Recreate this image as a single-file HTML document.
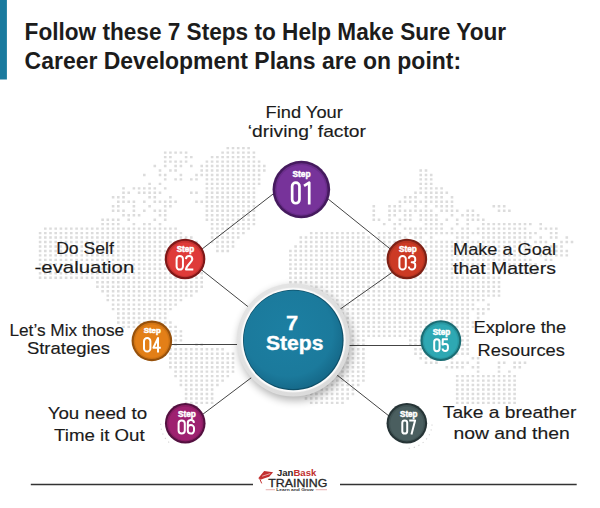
<!DOCTYPE html>
<html><head><meta charset="utf-8">
<style>
html,body{margin:0;padding:0;background:#fff;}
body{width:600px;height:508px;overflow:hidden;position:relative;}
svg{position:absolute;left:0;top:0;}
.t{font-family:"Liberation Sans",sans-serif;}
</style></head>
<body>
<svg width="600" height="508" viewBox="0 0 600 508">
<defs>
<linearGradient id="ringg" x1="0" y1="0" x2="1" y2="1">
<stop offset="0" stop-color="#e6e6e6"/><stop offset="1" stop-color="#d8d8d8"/>
</linearGradient>
<radialGradient id="tealg" cx="0.45" cy="0.42" r="0.6">
<stop offset="0" stop-color="#1c7fa2"/><stop offset="0.75" stop-color="#1b7a9c"/><stop offset="1" stop-color="#156888"/>
</radialGradient>
<filter id="mblur" x="0" y="0" width="1" height="1"><feGaussianBlur stdDeviation="0.45"/></filter>
<filter id="blur4" x="-30%" y="-30%" width="160%" height="160%"><feGaussianBlur stdDeviation="4"/></filter>
<filter id="sh" x="-30%" y="-30%" width="160%" height="160%">
<feGaussianBlur in="SourceAlpha" stdDeviation="3"/>
<feOffset dx="3" dy="4" result="b"/>
<feComponentTransfer><feFuncA type="linear" slope="0.35"/></feComponentTransfer>
<feMerge><feMergeNode/><feMergeNode in="SourceGraphic"/></feMerge>
</filter>
</defs>
<rect x="0" y="0" width="6.9" height="79.5" fill="#1a7a9e"/>
<g class="t" font-weight="bold" fill="#1c1c1c" font-size="23.5">
<text x="24.6" y="39.5" textLength="481.5" lengthAdjust="spacingAndGlyphs">Follow these 7 Steps to Help Make Sure Your</text>
<text x="24.6" y="68.5" textLength="436.5" lengthAdjust="spacingAndGlyphs">Career Development Plans are on point:</text>
</g>
<g id="map" filter="url(#mblur)"><path fill="#dcdcdc" d="M226.5 146.9h2.6v2.4h-2.6zM231.7 146.9h2.6v2.4h-2.6zM236.9 146.9h2.6v2.4h-2.6zM242.1 146.9h2.6v2.4h-2.6zM247.3 146.9h2.6v2.4h-2.6zM163.9 151.4h2.6v2.4h-2.6zM169.1 151.4h2.6v2.4h-2.6zM174.3 151.4h2.6v2.4h-2.6zM179.6 151.4h2.6v2.4h-2.6zM184.8 151.4h2.6v2.4h-2.6zM221.3 151.4h2.6v2.4h-2.6zM226.5 151.4h2.6v2.4h-2.6zM231.7 151.4h2.6v2.4h-2.6zM236.9 151.4h2.6v2.4h-2.6zM242.1 151.4h2.6v2.4h-2.6zM247.3 151.4h2.6v2.4h-2.6zM252.6 151.4h2.6v2.4h-2.6zM163.9 155.9h2.6v2.4h-2.6zM169.1 155.9h2.6v2.4h-2.6zM184.8 155.9h2.6v2.4h-2.6zM190.0 155.9h2.6v2.4h-2.6zM210.8 155.9h2.6v2.4h-2.6zM216.1 155.9h2.6v2.4h-2.6zM221.3 155.9h2.6v2.4h-2.6zM226.5 155.9h2.6v2.4h-2.6zM231.7 155.9h2.6v2.4h-2.6zM236.9 155.9h2.6v2.4h-2.6zM242.1 155.9h2.6v2.4h-2.6zM247.3 155.9h2.6v2.4h-2.6zM252.6 155.9h2.6v2.4h-2.6zM163.9 160.4h2.6v2.4h-2.6zM169.1 160.4h2.6v2.4h-2.6zM174.3 160.4h2.6v2.4h-2.6zM179.6 160.4h2.6v2.4h-2.6zM184.8 160.4h2.6v2.4h-2.6zM205.6 160.4h2.6v2.4h-2.6zM210.8 160.4h2.6v2.4h-2.6zM216.1 160.4h2.6v2.4h-2.6zM221.3 160.4h2.6v2.4h-2.6zM226.5 160.4h2.6v2.4h-2.6zM231.7 160.4h2.6v2.4h-2.6zM236.9 160.4h2.6v2.4h-2.6zM242.1 160.4h2.6v2.4h-2.6zM247.3 160.4h2.6v2.4h-2.6zM252.6 160.4h2.6v2.4h-2.6zM257.8 160.4h2.6v2.4h-2.6zM153.5 164.8h2.6v2.4h-2.6zM163.9 164.8h2.6v2.4h-2.6zM174.3 164.8h2.6v2.4h-2.6zM179.6 164.8h2.6v2.4h-2.6zM190.0 164.8h2.6v2.4h-2.6zM200.4 164.8h2.6v2.4h-2.6zM205.6 164.8h2.6v2.4h-2.6zM210.8 164.8h2.6v2.4h-2.6zM216.1 164.8h2.6v2.4h-2.6zM221.3 164.8h2.6v2.4h-2.6zM226.5 164.8h2.6v2.4h-2.6zM231.7 164.8h2.6v2.4h-2.6zM236.9 164.8h2.6v2.4h-2.6zM242.1 164.8h2.6v2.4h-2.6zM247.3 164.8h2.6v2.4h-2.6zM252.6 164.8h2.6v2.4h-2.6zM257.8 164.8h2.6v2.4h-2.6zM263.0 164.8h2.6v2.4h-2.6zM158.7 169.3h2.6v2.4h-2.6zM169.1 169.3h2.6v2.4h-2.6zM174.3 169.3h2.6v2.4h-2.6zM200.4 169.3h2.6v2.4h-2.6zM205.6 169.3h2.6v2.4h-2.6zM210.8 169.3h2.6v2.4h-2.6zM216.1 169.3h2.6v2.4h-2.6zM221.3 169.3h2.6v2.4h-2.6zM226.5 169.3h2.6v2.4h-2.6zM231.7 169.3h2.6v2.4h-2.6zM236.9 169.3h2.6v2.4h-2.6zM242.1 169.3h2.6v2.4h-2.6zM247.3 169.3h2.6v2.4h-2.6zM252.6 169.3h2.6v2.4h-2.6zM257.8 169.3h2.6v2.4h-2.6zM263.0 169.3h2.6v2.4h-2.6zM419.4 169.3h2.6v2.4h-2.6zM424.7 169.3h2.6v2.4h-2.6zM143.0 173.8h2.6v2.4h-2.6zM158.7 173.8h2.6v2.4h-2.6zM163.9 173.8h2.6v2.4h-2.6zM179.6 173.8h2.6v2.4h-2.6zM195.2 173.8h2.6v2.4h-2.6zM200.4 173.8h2.6v2.4h-2.6zM205.6 173.8h2.6v2.4h-2.6zM210.8 173.8h2.6v2.4h-2.6zM216.1 173.8h2.6v2.4h-2.6zM221.3 173.8h2.6v2.4h-2.6zM226.5 173.8h2.6v2.4h-2.6zM231.7 173.8h2.6v2.4h-2.6zM236.9 173.8h2.6v2.4h-2.6zM242.1 173.8h2.6v2.4h-2.6zM247.3 173.8h2.6v2.4h-2.6zM252.6 173.8h2.6v2.4h-2.6zM257.8 173.8h2.6v2.4h-2.6zM419.4 173.8h2.6v2.4h-2.6zM424.7 173.8h2.6v2.4h-2.6zM429.9 173.8h2.6v2.4h-2.6zM163.9 178.2h2.6v2.4h-2.6zM174.3 178.2h2.6v2.4h-2.6zM179.6 178.2h2.6v2.4h-2.6zM190.0 178.2h2.6v2.4h-2.6zM195.2 178.2h2.6v2.4h-2.6zM205.6 178.2h2.6v2.4h-2.6zM210.8 178.2h2.6v2.4h-2.6zM216.1 178.2h2.6v2.4h-2.6zM221.3 178.2h2.6v2.4h-2.6zM226.5 178.2h2.6v2.4h-2.6zM231.7 178.2h2.6v2.4h-2.6zM236.9 178.2h2.6v2.4h-2.6zM242.1 178.2h2.6v2.4h-2.6zM247.3 178.2h2.6v2.4h-2.6zM252.6 178.2h2.6v2.4h-2.6zM257.8 178.2h2.6v2.4h-2.6zM283.9 178.2h2.6v2.4h-2.6zM289.1 178.2h2.6v2.4h-2.6zM294.3 178.2h2.6v2.4h-2.6zM419.4 178.2h2.6v2.4h-2.6zM424.7 178.2h2.6v2.4h-2.6zM429.9 178.2h2.6v2.4h-2.6zM148.3 182.7h2.6v2.4h-2.6zM158.7 182.7h2.6v2.4h-2.6zM205.6 182.7h2.6v2.4h-2.6zM210.8 182.7h2.6v2.4h-2.6zM216.1 182.7h2.6v2.4h-2.6zM221.3 182.7h2.6v2.4h-2.6zM226.5 182.7h2.6v2.4h-2.6zM231.7 182.7h2.6v2.4h-2.6zM236.9 182.7h2.6v2.4h-2.6zM242.1 182.7h2.6v2.4h-2.6zM247.3 182.7h2.6v2.4h-2.6zM252.6 182.7h2.6v2.4h-2.6zM257.8 182.7h2.6v2.4h-2.6zM283.9 182.7h2.6v2.4h-2.6zM289.1 182.7h2.6v2.4h-2.6zM294.3 182.7h2.6v2.4h-2.6zM419.4 182.7h2.6v2.4h-2.6zM424.7 182.7h2.6v2.4h-2.6zM429.9 182.7h2.6v2.4h-2.6zM122.2 187.2h2.6v2.4h-2.6zM132.6 187.2h2.6v2.4h-2.6zM137.8 187.2h2.6v2.4h-2.6zM143.0 187.2h2.6v2.4h-2.6zM148.3 187.2h2.6v2.4h-2.6zM153.5 187.2h2.6v2.4h-2.6zM163.9 187.2h2.6v2.4h-2.6zM205.6 187.2h2.6v2.4h-2.6zM210.8 187.2h2.6v2.4h-2.6zM216.1 187.2h2.6v2.4h-2.6zM221.3 187.2h2.6v2.4h-2.6zM226.5 187.2h2.6v2.4h-2.6zM231.7 187.2h2.6v2.4h-2.6zM236.9 187.2h2.6v2.4h-2.6zM242.1 187.2h2.6v2.4h-2.6zM247.3 187.2h2.6v2.4h-2.6zM252.6 187.2h2.6v2.4h-2.6zM419.4 187.2h2.6v2.4h-2.6zM424.7 187.2h2.6v2.4h-2.6zM429.9 187.2h2.6v2.4h-2.6zM435.1 187.2h2.6v2.4h-2.6zM440.3 187.2h2.6v2.4h-2.6zM122.2 191.6h2.6v2.4h-2.6zM127.4 191.6h2.6v2.4h-2.6zM137.8 191.6h2.6v2.4h-2.6zM143.0 191.6h2.6v2.4h-2.6zM148.3 191.6h2.6v2.4h-2.6zM153.5 191.6h2.6v2.4h-2.6zM158.7 191.6h2.6v2.4h-2.6zM190.0 191.6h2.6v2.4h-2.6zM195.2 191.6h2.6v2.4h-2.6zM205.6 191.6h2.6v2.4h-2.6zM210.8 191.6h2.6v2.4h-2.6zM216.1 191.6h2.6v2.4h-2.6zM221.3 191.6h2.6v2.4h-2.6zM226.5 191.6h2.6v2.4h-2.6zM231.7 191.6h2.6v2.4h-2.6zM236.9 191.6h2.6v2.4h-2.6zM242.1 191.6h2.6v2.4h-2.6zM247.3 191.6h2.6v2.4h-2.6zM252.6 191.6h2.6v2.4h-2.6zM414.2 191.6h2.6v2.4h-2.6zM419.4 191.6h2.6v2.4h-2.6zM424.7 191.6h2.6v2.4h-2.6zM429.9 191.6h2.6v2.4h-2.6zM435.1 191.6h2.6v2.4h-2.6zM440.3 191.6h2.6v2.4h-2.6zM445.5 191.6h2.6v2.4h-2.6zM111.8 196.1h2.6v2.4h-2.6zM117.0 196.1h2.6v2.4h-2.6zM122.2 196.1h2.6v2.4h-2.6zM148.3 196.1h2.6v2.4h-2.6zM153.5 196.1h2.6v2.4h-2.6zM169.1 196.1h2.6v2.4h-2.6zM205.6 196.1h2.6v2.4h-2.6zM210.8 196.1h2.6v2.4h-2.6zM216.1 196.1h2.6v2.4h-2.6zM221.3 196.1h2.6v2.4h-2.6zM226.5 196.1h2.6v2.4h-2.6zM231.7 196.1h2.6v2.4h-2.6zM236.9 196.1h2.6v2.4h-2.6zM242.1 196.1h2.6v2.4h-2.6zM247.3 196.1h2.6v2.4h-2.6zM252.6 196.1h2.6v2.4h-2.6zM403.8 196.1h2.6v2.4h-2.6zM409.0 196.1h2.6v2.4h-2.6zM414.2 196.1h2.6v2.4h-2.6zM424.7 196.1h2.6v2.4h-2.6zM429.9 196.1h2.6v2.4h-2.6zM435.1 196.1h2.6v2.4h-2.6zM440.3 196.1h2.6v2.4h-2.6zM450.7 196.1h2.6v2.4h-2.6zM117.0 200.6h2.6v2.4h-2.6zM122.2 200.6h2.6v2.4h-2.6zM127.4 200.6h2.6v2.4h-2.6zM132.6 200.6h2.6v2.4h-2.6zM143.0 200.6h2.6v2.4h-2.6zM153.5 200.6h2.6v2.4h-2.6zM158.7 200.6h2.6v2.4h-2.6zM163.9 200.6h2.6v2.4h-2.6zM169.1 200.6h2.6v2.4h-2.6zM174.3 200.6h2.6v2.4h-2.6zM195.2 200.6h2.6v2.4h-2.6zM200.4 200.6h2.6v2.4h-2.6zM205.6 200.6h2.6v2.4h-2.6zM210.8 200.6h2.6v2.4h-2.6zM216.1 200.6h2.6v2.4h-2.6zM221.3 200.6h2.6v2.4h-2.6zM226.5 200.6h2.6v2.4h-2.6zM231.7 200.6h2.6v2.4h-2.6zM236.9 200.6h2.6v2.4h-2.6zM242.1 200.6h2.6v2.4h-2.6zM247.3 200.6h2.6v2.4h-2.6zM252.6 200.6h2.6v2.4h-2.6zM398.6 200.6h2.6v2.4h-2.6zM403.8 200.6h2.6v2.4h-2.6zM409.0 200.6h2.6v2.4h-2.6zM414.2 200.6h2.6v2.4h-2.6zM419.4 200.6h2.6v2.4h-2.6zM424.7 200.6h2.6v2.4h-2.6zM429.9 200.6h2.6v2.4h-2.6zM435.1 200.6h2.6v2.4h-2.6zM440.3 200.6h2.6v2.4h-2.6zM445.5 200.6h2.6v2.4h-2.6zM450.7 200.6h2.6v2.4h-2.6zM111.8 205.1h2.6v2.4h-2.6zM117.0 205.1h2.6v2.4h-2.6zM132.6 205.1h2.6v2.4h-2.6zM148.3 205.1h2.6v2.4h-2.6zM163.9 205.1h2.6v2.4h-2.6zM169.1 205.1h2.6v2.4h-2.6zM205.6 205.1h2.6v2.4h-2.6zM210.8 205.1h2.6v2.4h-2.6zM216.1 205.1h2.6v2.4h-2.6zM221.3 205.1h2.6v2.4h-2.6zM226.5 205.1h2.6v2.4h-2.6zM231.7 205.1h2.6v2.4h-2.6zM236.9 205.1h2.6v2.4h-2.6zM242.1 205.1h2.6v2.4h-2.6zM247.3 205.1h2.6v2.4h-2.6zM252.6 205.1h2.6v2.4h-2.6zM372.5 205.1h2.6v2.4h-2.6zM388.2 205.1h2.6v2.4h-2.6zM393.4 205.1h2.6v2.4h-2.6zM398.6 205.1h2.6v2.4h-2.6zM414.2 205.1h2.6v2.4h-2.6zM424.7 205.1h2.6v2.4h-2.6zM435.1 205.1h2.6v2.4h-2.6zM440.3 205.1h2.6v2.4h-2.6zM445.5 205.1h2.6v2.4h-2.6zM450.7 205.1h2.6v2.4h-2.6zM492.5 205.1h2.6v2.4h-2.6zM497.7 205.1h2.6v2.4h-2.6zM502.9 205.1h2.6v2.4h-2.6zM111.8 209.5h2.6v2.4h-2.6zM117.0 209.5h2.6v2.4h-2.6zM122.2 209.5h2.6v2.4h-2.6zM132.6 209.5h2.6v2.4h-2.6zM143.0 209.5h2.6v2.4h-2.6zM153.5 209.5h2.6v2.4h-2.6zM158.7 209.5h2.6v2.4h-2.6zM163.9 209.5h2.6v2.4h-2.6zM205.6 209.5h2.6v2.4h-2.6zM210.8 209.5h2.6v2.4h-2.6zM216.1 209.5h2.6v2.4h-2.6zM221.3 209.5h2.6v2.4h-2.6zM226.5 209.5h2.6v2.4h-2.6zM231.7 209.5h2.6v2.4h-2.6zM236.9 209.5h2.6v2.4h-2.6zM242.1 209.5h2.6v2.4h-2.6zM247.3 209.5h2.6v2.4h-2.6zM252.6 209.5h2.6v2.4h-2.6zM372.5 209.5h2.6v2.4h-2.6zM388.2 209.5h2.6v2.4h-2.6zM393.4 209.5h2.6v2.4h-2.6zM398.6 209.5h2.6v2.4h-2.6zM403.8 209.5h2.6v2.4h-2.6zM409.0 209.5h2.6v2.4h-2.6zM414.2 209.5h2.6v2.4h-2.6zM419.4 209.5h2.6v2.4h-2.6zM424.7 209.5h2.6v2.4h-2.6zM429.9 209.5h2.6v2.4h-2.6zM440.3 209.5h2.6v2.4h-2.6zM445.5 209.5h2.6v2.4h-2.6zM450.7 209.5h2.6v2.4h-2.6zM455.9 209.5h2.6v2.4h-2.6zM466.4 209.5h2.6v2.4h-2.6zM471.6 209.5h2.6v2.4h-2.6zM497.7 209.5h2.6v2.4h-2.6zM502.9 209.5h2.6v2.4h-2.6zM508.1 209.5h2.6v2.4h-2.6zM122.2 214.0h2.6v2.4h-2.6zM127.4 214.0h2.6v2.4h-2.6zM132.6 214.0h2.6v2.4h-2.6zM137.8 214.0h2.6v2.4h-2.6zM158.7 214.0h2.6v2.4h-2.6zM163.9 214.0h2.6v2.4h-2.6zM205.6 214.0h2.6v2.4h-2.6zM210.8 214.0h2.6v2.4h-2.6zM216.1 214.0h2.6v2.4h-2.6zM221.3 214.0h2.6v2.4h-2.6zM226.5 214.0h2.6v2.4h-2.6zM231.7 214.0h2.6v2.4h-2.6zM236.9 214.0h2.6v2.4h-2.6zM242.1 214.0h2.6v2.4h-2.6zM247.3 214.0h2.6v2.4h-2.6zM252.6 214.0h2.6v2.4h-2.6zM372.5 214.0h2.6v2.4h-2.6zM388.2 214.0h2.6v2.4h-2.6zM393.4 214.0h2.6v2.4h-2.6zM403.8 214.0h2.6v2.4h-2.6zM409.0 214.0h2.6v2.4h-2.6zM419.4 214.0h2.6v2.4h-2.6zM424.7 214.0h2.6v2.4h-2.6zM429.9 214.0h2.6v2.4h-2.6zM435.1 214.0h2.6v2.4h-2.6zM450.7 214.0h2.6v2.4h-2.6zM461.2 214.0h2.6v2.4h-2.6zM466.4 214.0h2.6v2.4h-2.6zM471.6 214.0h2.6v2.4h-2.6zM476.8 214.0h2.6v2.4h-2.6zM101.3 218.5h2.6v2.4h-2.6zM106.5 218.5h2.6v2.4h-2.6zM111.8 218.5h2.6v2.4h-2.6zM117.0 218.5h2.6v2.4h-2.6zM127.4 218.5h2.6v2.4h-2.6zM153.5 218.5h2.6v2.4h-2.6zM163.9 218.5h2.6v2.4h-2.6zM205.6 218.5h2.6v2.4h-2.6zM210.8 218.5h2.6v2.4h-2.6zM216.1 218.5h2.6v2.4h-2.6zM221.3 218.5h2.6v2.4h-2.6zM226.5 218.5h2.6v2.4h-2.6zM231.7 218.5h2.6v2.4h-2.6zM236.9 218.5h2.6v2.4h-2.6zM242.1 218.5h2.6v2.4h-2.6zM247.3 218.5h2.6v2.4h-2.6zM252.6 218.5h2.6v2.4h-2.6zM372.5 218.5h2.6v2.4h-2.6zM377.7 218.5h2.6v2.4h-2.6zM388.2 218.5h2.6v2.4h-2.6zM398.6 218.5h2.6v2.4h-2.6zM403.8 218.5h2.6v2.4h-2.6zM409.0 218.5h2.6v2.4h-2.6zM419.4 218.5h2.6v2.4h-2.6zM424.7 218.5h2.6v2.4h-2.6zM429.9 218.5h2.6v2.4h-2.6zM435.1 218.5h2.6v2.4h-2.6zM445.5 218.5h2.6v2.4h-2.6zM455.9 218.5h2.6v2.4h-2.6zM466.4 218.5h2.6v2.4h-2.6zM471.6 218.5h2.6v2.4h-2.6zM476.8 218.5h2.6v2.4h-2.6zM482.0 218.5h2.6v2.4h-2.6zM101.3 222.9h2.6v2.4h-2.6zM106.5 222.9h2.6v2.4h-2.6zM111.8 222.9h2.6v2.4h-2.6zM117.0 222.9h2.6v2.4h-2.6zM132.6 222.9h2.6v2.4h-2.6zM143.0 222.9h2.6v2.4h-2.6zM148.3 222.9h2.6v2.4h-2.6zM158.7 222.9h2.6v2.4h-2.6zM210.8 222.9h2.6v2.4h-2.6zM216.1 222.9h2.6v2.4h-2.6zM221.3 222.9h2.6v2.4h-2.6zM226.5 222.9h2.6v2.4h-2.6zM231.7 222.9h2.6v2.4h-2.6zM236.9 222.9h2.6v2.4h-2.6zM242.1 222.9h2.6v2.4h-2.6zM247.3 222.9h2.6v2.4h-2.6zM252.6 222.9h2.6v2.4h-2.6zM382.9 222.9h2.6v2.4h-2.6zM393.4 222.9h2.6v2.4h-2.6zM398.6 222.9h2.6v2.4h-2.6zM424.7 222.9h2.6v2.4h-2.6zM429.9 222.9h2.6v2.4h-2.6zM435.1 222.9h2.6v2.4h-2.6zM440.3 222.9h2.6v2.4h-2.6zM455.9 222.9h2.6v2.4h-2.6zM466.4 222.9h2.6v2.4h-2.6zM482.0 222.9h2.6v2.4h-2.6zM487.2 222.9h2.6v2.4h-2.6zM492.5 222.9h2.6v2.4h-2.6zM497.7 222.9h2.6v2.4h-2.6zM502.9 222.9h2.6v2.4h-2.6zM508.1 222.9h2.6v2.4h-2.6zM513.3 222.9h2.6v2.4h-2.6zM518.5 222.9h2.6v2.4h-2.6zM523.7 222.9h2.6v2.4h-2.6zM529.0 222.9h2.6v2.4h-2.6zM539.4 222.9h2.6v2.4h-2.6zM44.0 227.4h2.6v2.4h-2.6zM49.2 227.4h2.6v2.4h-2.6zM54.4 227.4h2.6v2.4h-2.6zM59.6 227.4h2.6v2.4h-2.6zM64.8 227.4h2.6v2.4h-2.6zM70.0 227.4h2.6v2.4h-2.6zM75.3 227.4h2.6v2.4h-2.6zM80.5 227.4h2.6v2.4h-2.6zM85.7 227.4h2.6v2.4h-2.6zM90.9 227.4h2.6v2.4h-2.6zM96.1 227.4h2.6v2.4h-2.6zM101.3 227.4h2.6v2.4h-2.6zM106.5 227.4h2.6v2.4h-2.6zM111.8 227.4h2.6v2.4h-2.6zM117.0 227.4h2.6v2.4h-2.6zM122.2 227.4h2.6v2.4h-2.6zM127.4 227.4h2.6v2.4h-2.6zM132.6 227.4h2.6v2.4h-2.6zM137.8 227.4h2.6v2.4h-2.6zM143.0 227.4h2.6v2.4h-2.6zM148.3 227.4h2.6v2.4h-2.6zM153.5 227.4h2.6v2.4h-2.6zM158.7 227.4h2.6v2.4h-2.6zM163.9 227.4h2.6v2.4h-2.6zM169.1 227.4h2.6v2.4h-2.6zM174.3 227.4h2.6v2.4h-2.6zM210.8 227.4h2.6v2.4h-2.6zM216.1 227.4h2.6v2.4h-2.6zM221.3 227.4h2.6v2.4h-2.6zM226.5 227.4h2.6v2.4h-2.6zM231.7 227.4h2.6v2.4h-2.6zM236.9 227.4h2.6v2.4h-2.6zM242.1 227.4h2.6v2.4h-2.6zM247.3 227.4h2.6v2.4h-2.6zM393.4 227.4h2.6v2.4h-2.6zM403.8 227.4h2.6v2.4h-2.6zM409.0 227.4h2.6v2.4h-2.6zM414.2 227.4h2.6v2.4h-2.6zM419.4 227.4h2.6v2.4h-2.6zM424.7 227.4h2.6v2.4h-2.6zM429.9 227.4h2.6v2.4h-2.6zM435.1 227.4h2.6v2.4h-2.6zM440.3 227.4h2.6v2.4h-2.6zM450.7 227.4h2.6v2.4h-2.6zM461.2 227.4h2.6v2.4h-2.6zM466.4 227.4h2.6v2.4h-2.6zM476.8 227.4h2.6v2.4h-2.6zM482.0 227.4h2.6v2.4h-2.6zM487.2 227.4h2.6v2.4h-2.6zM492.5 227.4h2.6v2.4h-2.6zM497.7 227.4h2.6v2.4h-2.6zM502.9 227.4h2.6v2.4h-2.6zM508.1 227.4h2.6v2.4h-2.6zM513.3 227.4h2.6v2.4h-2.6zM518.5 227.4h2.6v2.4h-2.6zM523.7 227.4h2.6v2.4h-2.6zM539.4 227.4h2.6v2.4h-2.6zM544.6 227.4h2.6v2.4h-2.6zM549.8 227.4h2.6v2.4h-2.6zM555.0 227.4h2.6v2.4h-2.6zM38.8 231.9h2.6v2.4h-2.6zM44.0 231.9h2.6v2.4h-2.6zM49.2 231.9h2.6v2.4h-2.6zM54.4 231.9h2.6v2.4h-2.6zM59.6 231.9h2.6v2.4h-2.6zM64.8 231.9h2.6v2.4h-2.6zM70.0 231.9h2.6v2.4h-2.6zM75.3 231.9h2.6v2.4h-2.6zM80.5 231.9h2.6v2.4h-2.6zM85.7 231.9h2.6v2.4h-2.6zM90.9 231.9h2.6v2.4h-2.6zM96.1 231.9h2.6v2.4h-2.6zM101.3 231.9h2.6v2.4h-2.6zM106.5 231.9h2.6v2.4h-2.6zM111.8 231.9h2.6v2.4h-2.6zM117.0 231.9h2.6v2.4h-2.6zM122.2 231.9h2.6v2.4h-2.6zM127.4 231.9h2.6v2.4h-2.6zM132.6 231.9h2.6v2.4h-2.6zM137.8 231.9h2.6v2.4h-2.6zM143.0 231.9h2.6v2.4h-2.6zM148.3 231.9h2.6v2.4h-2.6zM153.5 231.9h2.6v2.4h-2.6zM158.7 231.9h2.6v2.4h-2.6zM163.9 231.9h2.6v2.4h-2.6zM169.1 231.9h2.6v2.4h-2.6zM174.3 231.9h2.6v2.4h-2.6zM179.6 231.9h2.6v2.4h-2.6zM210.8 231.9h2.6v2.4h-2.6zM216.1 231.9h2.6v2.4h-2.6zM221.3 231.9h2.6v2.4h-2.6zM226.5 231.9h2.6v2.4h-2.6zM231.7 231.9h2.6v2.4h-2.6zM236.9 231.9h2.6v2.4h-2.6zM242.1 231.9h2.6v2.4h-2.6zM309.9 231.9h2.6v2.4h-2.6zM315.1 231.9h2.6v2.4h-2.6zM320.4 231.9h2.6v2.4h-2.6zM325.6 231.9h2.6v2.4h-2.6zM330.8 231.9h2.6v2.4h-2.6zM336.0 231.9h2.6v2.4h-2.6zM341.2 231.9h2.6v2.4h-2.6zM346.4 231.9h2.6v2.4h-2.6zM351.6 231.9h2.6v2.4h-2.6zM356.9 231.9h2.6v2.4h-2.6zM362.1 231.9h2.6v2.4h-2.6zM377.7 231.9h2.6v2.4h-2.6zM382.9 231.9h2.6v2.4h-2.6zM388.2 231.9h2.6v2.4h-2.6zM393.4 231.9h2.6v2.4h-2.6zM398.6 231.9h2.6v2.4h-2.6zM409.0 231.9h2.6v2.4h-2.6zM414.2 231.9h2.6v2.4h-2.6zM419.4 231.9h2.6v2.4h-2.6zM424.7 231.9h2.6v2.4h-2.6zM429.9 231.9h2.6v2.4h-2.6zM435.1 231.9h2.6v2.4h-2.6zM440.3 231.9h2.6v2.4h-2.6zM445.5 231.9h2.6v2.4h-2.6zM450.7 231.9h2.6v2.4h-2.6zM455.9 231.9h2.6v2.4h-2.6zM461.2 231.9h2.6v2.4h-2.6zM466.4 231.9h2.6v2.4h-2.6zM471.6 231.9h2.6v2.4h-2.6zM476.8 231.9h2.6v2.4h-2.6zM482.0 231.9h2.6v2.4h-2.6zM487.2 231.9h2.6v2.4h-2.6zM492.5 231.9h2.6v2.4h-2.6zM497.7 231.9h2.6v2.4h-2.6zM502.9 231.9h2.6v2.4h-2.6zM508.1 231.9h2.6v2.4h-2.6zM513.3 231.9h2.6v2.4h-2.6zM518.5 231.9h2.6v2.4h-2.6zM523.7 231.9h2.6v2.4h-2.6zM529.0 231.9h2.6v2.4h-2.6zM534.2 231.9h2.6v2.4h-2.6zM549.8 231.9h2.6v2.4h-2.6zM555.0 231.9h2.6v2.4h-2.6zM38.8 236.3h2.6v2.4h-2.6zM44.0 236.3h2.6v2.4h-2.6zM49.2 236.3h2.6v2.4h-2.6zM54.4 236.3h2.6v2.4h-2.6zM59.6 236.3h2.6v2.4h-2.6zM64.8 236.3h2.6v2.4h-2.6zM70.0 236.3h2.6v2.4h-2.6zM75.3 236.3h2.6v2.4h-2.6zM80.5 236.3h2.6v2.4h-2.6zM85.7 236.3h2.6v2.4h-2.6zM90.9 236.3h2.6v2.4h-2.6zM96.1 236.3h2.6v2.4h-2.6zM101.3 236.3h2.6v2.4h-2.6zM106.5 236.3h2.6v2.4h-2.6zM111.8 236.3h2.6v2.4h-2.6zM117.0 236.3h2.6v2.4h-2.6zM122.2 236.3h2.6v2.4h-2.6zM127.4 236.3h2.6v2.4h-2.6zM132.6 236.3h2.6v2.4h-2.6zM137.8 236.3h2.6v2.4h-2.6zM143.0 236.3h2.6v2.4h-2.6zM148.3 236.3h2.6v2.4h-2.6zM153.5 236.3h2.6v2.4h-2.6zM158.7 236.3h2.6v2.4h-2.6zM163.9 236.3h2.6v2.4h-2.6zM169.1 236.3h2.6v2.4h-2.6zM174.3 236.3h2.6v2.4h-2.6zM179.6 236.3h2.6v2.4h-2.6zM184.8 236.3h2.6v2.4h-2.6zM190.0 236.3h2.6v2.4h-2.6zM210.8 236.3h2.6v2.4h-2.6zM216.1 236.3h2.6v2.4h-2.6zM221.3 236.3h2.6v2.4h-2.6zM226.5 236.3h2.6v2.4h-2.6zM231.7 236.3h2.6v2.4h-2.6zM236.9 236.3h2.6v2.4h-2.6zM299.5 236.3h2.6v2.4h-2.6zM304.7 236.3h2.6v2.4h-2.6zM309.9 236.3h2.6v2.4h-2.6zM315.1 236.3h2.6v2.4h-2.6zM320.4 236.3h2.6v2.4h-2.6zM325.6 236.3h2.6v2.4h-2.6zM330.8 236.3h2.6v2.4h-2.6zM336.0 236.3h2.6v2.4h-2.6zM341.2 236.3h2.6v2.4h-2.6zM346.4 236.3h2.6v2.4h-2.6zM351.6 236.3h2.6v2.4h-2.6zM356.9 236.3h2.6v2.4h-2.6zM362.1 236.3h2.6v2.4h-2.6zM367.3 236.3h2.6v2.4h-2.6zM377.7 236.3h2.6v2.4h-2.6zM382.9 236.3h2.6v2.4h-2.6zM388.2 236.3h2.6v2.4h-2.6zM393.4 236.3h2.6v2.4h-2.6zM398.6 236.3h2.6v2.4h-2.6zM403.8 236.3h2.6v2.4h-2.6zM414.2 236.3h2.6v2.4h-2.6zM419.4 236.3h2.6v2.4h-2.6zM429.9 236.3h2.6v2.4h-2.6zM455.9 236.3h2.6v2.4h-2.6zM461.2 236.3h2.6v2.4h-2.6zM466.4 236.3h2.6v2.4h-2.6zM482.0 236.3h2.6v2.4h-2.6zM487.2 236.3h2.6v2.4h-2.6zM492.5 236.3h2.6v2.4h-2.6zM497.7 236.3h2.6v2.4h-2.6zM502.9 236.3h2.6v2.4h-2.6zM508.1 236.3h2.6v2.4h-2.6zM513.3 236.3h2.6v2.4h-2.6zM518.5 236.3h2.6v2.4h-2.6zM523.7 236.3h2.6v2.4h-2.6zM529.0 236.3h2.6v2.4h-2.6zM539.4 236.3h2.6v2.4h-2.6zM549.8 236.3h2.6v2.4h-2.6zM555.0 236.3h2.6v2.4h-2.6zM565.5 236.3h2.6v2.4h-2.6zM38.8 240.8h2.6v2.4h-2.6zM44.0 240.8h2.6v2.4h-2.6zM49.2 240.8h2.6v2.4h-2.6zM54.4 240.8h2.6v2.4h-2.6zM59.6 240.8h2.6v2.4h-2.6zM64.8 240.8h2.6v2.4h-2.6zM70.0 240.8h2.6v2.4h-2.6zM75.3 240.8h2.6v2.4h-2.6zM80.5 240.8h2.6v2.4h-2.6zM85.7 240.8h2.6v2.4h-2.6zM90.9 240.8h2.6v2.4h-2.6zM96.1 240.8h2.6v2.4h-2.6zM101.3 240.8h2.6v2.4h-2.6zM106.5 240.8h2.6v2.4h-2.6zM111.8 240.8h2.6v2.4h-2.6zM117.0 240.8h2.6v2.4h-2.6zM122.2 240.8h2.6v2.4h-2.6zM127.4 240.8h2.6v2.4h-2.6zM132.6 240.8h2.6v2.4h-2.6zM137.8 240.8h2.6v2.4h-2.6zM143.0 240.8h2.6v2.4h-2.6zM148.3 240.8h2.6v2.4h-2.6zM153.5 240.8h2.6v2.4h-2.6zM158.7 240.8h2.6v2.4h-2.6zM163.9 240.8h2.6v2.4h-2.6zM169.1 240.8h2.6v2.4h-2.6zM174.3 240.8h2.6v2.4h-2.6zM179.6 240.8h2.6v2.4h-2.6zM184.8 240.8h2.6v2.4h-2.6zM190.0 240.8h2.6v2.4h-2.6zM195.2 240.8h2.6v2.4h-2.6zM210.8 240.8h2.6v2.4h-2.6zM216.1 240.8h2.6v2.4h-2.6zM221.3 240.8h2.6v2.4h-2.6zM226.5 240.8h2.6v2.4h-2.6zM231.7 240.8h2.6v2.4h-2.6zM299.5 240.8h2.6v2.4h-2.6zM304.7 240.8h2.6v2.4h-2.6zM309.9 240.8h2.6v2.4h-2.6zM315.1 240.8h2.6v2.4h-2.6zM320.4 240.8h2.6v2.4h-2.6zM325.6 240.8h2.6v2.4h-2.6zM330.8 240.8h2.6v2.4h-2.6zM336.0 240.8h2.6v2.4h-2.6zM341.2 240.8h2.6v2.4h-2.6zM346.4 240.8h2.6v2.4h-2.6zM351.6 240.8h2.6v2.4h-2.6zM356.9 240.8h2.6v2.4h-2.6zM362.1 240.8h2.6v2.4h-2.6zM367.3 240.8h2.6v2.4h-2.6zM372.5 240.8h2.6v2.4h-2.6zM377.7 240.8h2.6v2.4h-2.6zM382.9 240.8h2.6v2.4h-2.6zM388.2 240.8h2.6v2.4h-2.6zM393.4 240.8h2.6v2.4h-2.6zM398.6 240.8h2.6v2.4h-2.6zM403.8 240.8h2.6v2.4h-2.6zM409.0 240.8h2.6v2.4h-2.6zM414.2 240.8h2.6v2.4h-2.6zM419.4 240.8h2.6v2.4h-2.6zM424.7 240.8h2.6v2.4h-2.6zM429.9 240.8h2.6v2.4h-2.6zM435.1 240.8h2.6v2.4h-2.6zM440.3 240.8h2.6v2.4h-2.6zM445.5 240.8h2.6v2.4h-2.6zM450.7 240.8h2.6v2.4h-2.6zM455.9 240.8h2.6v2.4h-2.6zM461.2 240.8h2.6v2.4h-2.6zM466.4 240.8h2.6v2.4h-2.6zM471.6 240.8h2.6v2.4h-2.6zM476.8 240.8h2.6v2.4h-2.6zM482.0 240.8h2.6v2.4h-2.6zM487.2 240.8h2.6v2.4h-2.6zM492.5 240.8h2.6v2.4h-2.6zM497.7 240.8h2.6v2.4h-2.6zM502.9 240.8h2.6v2.4h-2.6zM508.1 240.8h2.6v2.4h-2.6zM513.3 240.8h2.6v2.4h-2.6zM518.5 240.8h2.6v2.4h-2.6zM523.7 240.8h2.6v2.4h-2.6zM534.2 240.8h2.6v2.4h-2.6zM539.4 240.8h2.6v2.4h-2.6zM544.6 240.8h2.6v2.4h-2.6zM560.2 240.8h2.6v2.4h-2.6zM565.5 240.8h2.6v2.4h-2.6zM570.7 240.8h2.6v2.4h-2.6zM38.8 245.3h2.6v2.4h-2.6zM44.0 245.3h2.6v2.4h-2.6zM49.2 245.3h2.6v2.4h-2.6zM54.4 245.3h2.6v2.4h-2.6zM59.6 245.3h2.6v2.4h-2.6zM64.8 245.3h2.6v2.4h-2.6zM70.0 245.3h2.6v2.4h-2.6zM75.3 245.3h2.6v2.4h-2.6zM80.5 245.3h2.6v2.4h-2.6zM85.7 245.3h2.6v2.4h-2.6zM90.9 245.3h2.6v2.4h-2.6zM96.1 245.3h2.6v2.4h-2.6zM101.3 245.3h2.6v2.4h-2.6zM106.5 245.3h2.6v2.4h-2.6zM111.8 245.3h2.6v2.4h-2.6zM117.0 245.3h2.6v2.4h-2.6zM122.2 245.3h2.6v2.4h-2.6zM127.4 245.3h2.6v2.4h-2.6zM132.6 245.3h2.6v2.4h-2.6zM137.8 245.3h2.6v2.4h-2.6zM143.0 245.3h2.6v2.4h-2.6zM148.3 245.3h2.6v2.4h-2.6zM153.5 245.3h2.6v2.4h-2.6zM158.7 245.3h2.6v2.4h-2.6zM163.9 245.3h2.6v2.4h-2.6zM169.1 245.3h2.6v2.4h-2.6zM174.3 245.3h2.6v2.4h-2.6zM179.6 245.3h2.6v2.4h-2.6zM184.8 245.3h2.6v2.4h-2.6zM190.0 245.3h2.6v2.4h-2.6zM195.2 245.3h2.6v2.4h-2.6zM216.1 245.3h2.6v2.4h-2.6zM221.3 245.3h2.6v2.4h-2.6zM226.5 245.3h2.6v2.4h-2.6zM231.7 245.3h2.6v2.4h-2.6zM294.3 245.3h2.6v2.4h-2.6zM299.5 245.3h2.6v2.4h-2.6zM304.7 245.3h2.6v2.4h-2.6zM309.9 245.3h2.6v2.4h-2.6zM315.1 245.3h2.6v2.4h-2.6zM320.4 245.3h2.6v2.4h-2.6zM325.6 245.3h2.6v2.4h-2.6zM330.8 245.3h2.6v2.4h-2.6zM336.0 245.3h2.6v2.4h-2.6zM341.2 245.3h2.6v2.4h-2.6zM346.4 245.3h2.6v2.4h-2.6zM351.6 245.3h2.6v2.4h-2.6zM356.9 245.3h2.6v2.4h-2.6zM362.1 245.3h2.6v2.4h-2.6zM367.3 245.3h2.6v2.4h-2.6zM372.5 245.3h2.6v2.4h-2.6zM377.7 245.3h2.6v2.4h-2.6zM382.9 245.3h2.6v2.4h-2.6zM388.2 245.3h2.6v2.4h-2.6zM393.4 245.3h2.6v2.4h-2.6zM398.6 245.3h2.6v2.4h-2.6zM403.8 245.3h2.6v2.4h-2.6zM409.0 245.3h2.6v2.4h-2.6zM414.2 245.3h2.6v2.4h-2.6zM419.4 245.3h2.6v2.4h-2.6zM424.7 245.3h2.6v2.4h-2.6zM429.9 245.3h2.6v2.4h-2.6zM435.1 245.3h2.6v2.4h-2.6zM440.3 245.3h2.6v2.4h-2.6zM445.5 245.3h2.6v2.4h-2.6zM450.7 245.3h2.6v2.4h-2.6zM455.9 245.3h2.6v2.4h-2.6zM461.2 245.3h2.6v2.4h-2.6zM466.4 245.3h2.6v2.4h-2.6zM471.6 245.3h2.6v2.4h-2.6zM476.8 245.3h2.6v2.4h-2.6zM482.0 245.3h2.6v2.4h-2.6zM487.2 245.3h2.6v2.4h-2.6zM492.5 245.3h2.6v2.4h-2.6zM497.7 245.3h2.6v2.4h-2.6zM502.9 245.3h2.6v2.4h-2.6zM508.1 245.3h2.6v2.4h-2.6zM513.3 245.3h2.6v2.4h-2.6zM518.5 245.3h2.6v2.4h-2.6zM523.7 245.3h2.6v2.4h-2.6zM529.0 245.3h2.6v2.4h-2.6zM544.6 245.3h2.6v2.4h-2.6zM549.8 245.3h2.6v2.4h-2.6zM555.0 245.3h2.6v2.4h-2.6zM560.2 245.3h2.6v2.4h-2.6zM38.8 249.8h2.6v2.4h-2.6zM44.0 249.8h2.6v2.4h-2.6zM49.2 249.8h2.6v2.4h-2.6zM54.4 249.8h2.6v2.4h-2.6zM59.6 249.8h2.6v2.4h-2.6zM64.8 249.8h2.6v2.4h-2.6zM70.0 249.8h2.6v2.4h-2.6zM75.3 249.8h2.6v2.4h-2.6zM80.5 249.8h2.6v2.4h-2.6zM85.7 249.8h2.6v2.4h-2.6zM90.9 249.8h2.6v2.4h-2.6zM96.1 249.8h2.6v2.4h-2.6zM101.3 249.8h2.6v2.4h-2.6zM106.5 249.8h2.6v2.4h-2.6zM111.8 249.8h2.6v2.4h-2.6zM117.0 249.8h2.6v2.4h-2.6zM122.2 249.8h2.6v2.4h-2.6zM127.4 249.8h2.6v2.4h-2.6zM132.6 249.8h2.6v2.4h-2.6zM137.8 249.8h2.6v2.4h-2.6zM143.0 249.8h2.6v2.4h-2.6zM148.3 249.8h2.6v2.4h-2.6zM153.5 249.8h2.6v2.4h-2.6zM158.7 249.8h2.6v2.4h-2.6zM163.9 249.8h2.6v2.4h-2.6zM169.1 249.8h2.6v2.4h-2.6zM174.3 249.8h2.6v2.4h-2.6zM179.6 249.8h2.6v2.4h-2.6zM184.8 249.8h2.6v2.4h-2.6zM190.0 249.8h2.6v2.4h-2.6zM195.2 249.8h2.6v2.4h-2.6zM216.1 249.8h2.6v2.4h-2.6zM221.3 249.8h2.6v2.4h-2.6zM226.5 249.8h2.6v2.4h-2.6zM289.1 249.8h2.6v2.4h-2.6zM294.3 249.8h2.6v2.4h-2.6zM299.5 249.8h2.6v2.4h-2.6zM304.7 249.8h2.6v2.4h-2.6zM309.9 249.8h2.6v2.4h-2.6zM315.1 249.8h2.6v2.4h-2.6zM320.4 249.8h2.6v2.4h-2.6zM325.6 249.8h2.6v2.4h-2.6zM330.8 249.8h2.6v2.4h-2.6zM336.0 249.8h2.6v2.4h-2.6zM341.2 249.8h2.6v2.4h-2.6zM346.4 249.8h2.6v2.4h-2.6zM351.6 249.8h2.6v2.4h-2.6zM356.9 249.8h2.6v2.4h-2.6zM362.1 249.8h2.6v2.4h-2.6zM367.3 249.8h2.6v2.4h-2.6zM372.5 249.8h2.6v2.4h-2.6zM377.7 249.8h2.6v2.4h-2.6zM382.9 249.8h2.6v2.4h-2.6zM388.2 249.8h2.6v2.4h-2.6zM393.4 249.8h2.6v2.4h-2.6zM398.6 249.8h2.6v2.4h-2.6zM403.8 249.8h2.6v2.4h-2.6zM409.0 249.8h2.6v2.4h-2.6zM414.2 249.8h2.6v2.4h-2.6zM419.4 249.8h2.6v2.4h-2.6zM424.7 249.8h2.6v2.4h-2.6zM429.9 249.8h2.6v2.4h-2.6zM435.1 249.8h2.6v2.4h-2.6zM440.3 249.8h2.6v2.4h-2.6zM445.5 249.8h2.6v2.4h-2.6zM450.7 249.8h2.6v2.4h-2.6zM455.9 249.8h2.6v2.4h-2.6zM461.2 249.8h2.6v2.4h-2.6zM466.4 249.8h2.6v2.4h-2.6zM471.6 249.8h2.6v2.4h-2.6zM476.8 249.8h2.6v2.4h-2.6zM482.0 249.8h2.6v2.4h-2.6zM487.2 249.8h2.6v2.4h-2.6zM492.5 249.8h2.6v2.4h-2.6zM497.7 249.8h2.6v2.4h-2.6zM502.9 249.8h2.6v2.4h-2.6zM508.1 249.8h2.6v2.4h-2.6zM513.3 249.8h2.6v2.4h-2.6zM518.5 249.8h2.6v2.4h-2.6zM523.7 249.8h2.6v2.4h-2.6zM529.0 249.8h2.6v2.4h-2.6zM539.4 249.8h2.6v2.4h-2.6zM549.8 249.8h2.6v2.4h-2.6zM555.0 249.8h2.6v2.4h-2.6zM560.2 249.8h2.6v2.4h-2.6zM565.5 249.8h2.6v2.4h-2.6zM38.8 254.2h2.6v2.4h-2.6zM44.0 254.2h2.6v2.4h-2.6zM49.2 254.2h2.6v2.4h-2.6zM54.4 254.2h2.6v2.4h-2.6zM59.6 254.2h2.6v2.4h-2.6zM64.8 254.2h2.6v2.4h-2.6zM70.0 254.2h2.6v2.4h-2.6zM75.3 254.2h2.6v2.4h-2.6zM80.5 254.2h2.6v2.4h-2.6zM85.7 254.2h2.6v2.4h-2.6zM90.9 254.2h2.6v2.4h-2.6zM96.1 254.2h2.6v2.4h-2.6zM101.3 254.2h2.6v2.4h-2.6zM106.5 254.2h2.6v2.4h-2.6zM111.8 254.2h2.6v2.4h-2.6zM117.0 254.2h2.6v2.4h-2.6zM122.2 254.2h2.6v2.4h-2.6zM127.4 254.2h2.6v2.4h-2.6zM132.6 254.2h2.6v2.4h-2.6zM137.8 254.2h2.6v2.4h-2.6zM143.0 254.2h2.6v2.4h-2.6zM148.3 254.2h2.6v2.4h-2.6zM153.5 254.2h2.6v2.4h-2.6zM158.7 254.2h2.6v2.4h-2.6zM163.9 254.2h2.6v2.4h-2.6zM169.1 254.2h2.6v2.4h-2.6zM174.3 254.2h2.6v2.4h-2.6zM179.6 254.2h2.6v2.4h-2.6zM184.8 254.2h2.6v2.4h-2.6zM190.0 254.2h2.6v2.4h-2.6zM195.2 254.2h2.6v2.4h-2.6zM200.4 254.2h2.6v2.4h-2.6zM289.1 254.2h2.6v2.4h-2.6zM294.3 254.2h2.6v2.4h-2.6zM299.5 254.2h2.6v2.4h-2.6zM304.7 254.2h2.6v2.4h-2.6zM309.9 254.2h2.6v2.4h-2.6zM315.1 254.2h2.6v2.4h-2.6zM320.4 254.2h2.6v2.4h-2.6zM325.6 254.2h2.6v2.4h-2.6zM330.8 254.2h2.6v2.4h-2.6zM336.0 254.2h2.6v2.4h-2.6zM341.2 254.2h2.6v2.4h-2.6zM346.4 254.2h2.6v2.4h-2.6zM351.6 254.2h2.6v2.4h-2.6zM356.9 254.2h2.6v2.4h-2.6zM362.1 254.2h2.6v2.4h-2.6zM367.3 254.2h2.6v2.4h-2.6zM372.5 254.2h2.6v2.4h-2.6zM377.7 254.2h2.6v2.4h-2.6zM382.9 254.2h2.6v2.4h-2.6zM388.2 254.2h2.6v2.4h-2.6zM393.4 254.2h2.6v2.4h-2.6zM398.6 254.2h2.6v2.4h-2.6zM403.8 254.2h2.6v2.4h-2.6zM409.0 254.2h2.6v2.4h-2.6zM414.2 254.2h2.6v2.4h-2.6zM419.4 254.2h2.6v2.4h-2.6zM424.7 254.2h2.6v2.4h-2.6zM429.9 254.2h2.6v2.4h-2.6zM435.1 254.2h2.6v2.4h-2.6zM440.3 254.2h2.6v2.4h-2.6zM445.5 254.2h2.6v2.4h-2.6zM450.7 254.2h2.6v2.4h-2.6zM455.9 254.2h2.6v2.4h-2.6zM461.2 254.2h2.6v2.4h-2.6zM466.4 254.2h2.6v2.4h-2.6zM471.6 254.2h2.6v2.4h-2.6zM476.8 254.2h2.6v2.4h-2.6zM482.0 254.2h2.6v2.4h-2.6zM487.2 254.2h2.6v2.4h-2.6zM492.5 254.2h2.6v2.4h-2.6zM497.7 254.2h2.6v2.4h-2.6zM502.9 254.2h2.6v2.4h-2.6zM508.1 254.2h2.6v2.4h-2.6zM513.3 254.2h2.6v2.4h-2.6zM518.5 254.2h2.6v2.4h-2.6zM523.7 254.2h2.6v2.4h-2.6zM539.4 254.2h2.6v2.4h-2.6zM544.6 254.2h2.6v2.4h-2.6zM549.8 254.2h2.6v2.4h-2.6zM555.0 254.2h2.6v2.4h-2.6zM560.2 254.2h2.6v2.4h-2.6zM565.5 254.2h2.6v2.4h-2.6zM38.8 258.7h2.6v2.4h-2.6zM44.0 258.7h2.6v2.4h-2.6zM49.2 258.7h2.6v2.4h-2.6zM54.4 258.7h2.6v2.4h-2.6zM59.6 258.7h2.6v2.4h-2.6zM64.8 258.7h2.6v2.4h-2.6zM70.0 258.7h2.6v2.4h-2.6zM75.3 258.7h2.6v2.4h-2.6zM80.5 258.7h2.6v2.4h-2.6zM85.7 258.7h2.6v2.4h-2.6zM90.9 258.7h2.6v2.4h-2.6zM96.1 258.7h2.6v2.4h-2.6zM101.3 258.7h2.6v2.4h-2.6zM106.5 258.7h2.6v2.4h-2.6zM111.8 258.7h2.6v2.4h-2.6zM117.0 258.7h2.6v2.4h-2.6zM122.2 258.7h2.6v2.4h-2.6zM127.4 258.7h2.6v2.4h-2.6zM132.6 258.7h2.6v2.4h-2.6zM137.8 258.7h2.6v2.4h-2.6zM143.0 258.7h2.6v2.4h-2.6zM148.3 258.7h2.6v2.4h-2.6zM153.5 258.7h2.6v2.4h-2.6zM158.7 258.7h2.6v2.4h-2.6zM163.9 258.7h2.6v2.4h-2.6zM169.1 258.7h2.6v2.4h-2.6zM174.3 258.7h2.6v2.4h-2.6zM179.6 258.7h2.6v2.4h-2.6zM184.8 258.7h2.6v2.4h-2.6zM190.0 258.7h2.6v2.4h-2.6zM195.2 258.7h2.6v2.4h-2.6zM200.4 258.7h2.6v2.4h-2.6zM289.1 258.7h2.6v2.4h-2.6zM294.3 258.7h2.6v2.4h-2.6zM299.5 258.7h2.6v2.4h-2.6zM304.7 258.7h2.6v2.4h-2.6zM309.9 258.7h2.6v2.4h-2.6zM315.1 258.7h2.6v2.4h-2.6zM320.4 258.7h2.6v2.4h-2.6zM325.6 258.7h2.6v2.4h-2.6zM330.8 258.7h2.6v2.4h-2.6zM336.0 258.7h2.6v2.4h-2.6zM341.2 258.7h2.6v2.4h-2.6zM346.4 258.7h2.6v2.4h-2.6zM351.6 258.7h2.6v2.4h-2.6zM356.9 258.7h2.6v2.4h-2.6zM362.1 258.7h2.6v2.4h-2.6zM367.3 258.7h2.6v2.4h-2.6zM372.5 258.7h2.6v2.4h-2.6zM377.7 258.7h2.6v2.4h-2.6zM382.9 258.7h2.6v2.4h-2.6zM388.2 258.7h2.6v2.4h-2.6zM393.4 258.7h2.6v2.4h-2.6zM398.6 258.7h2.6v2.4h-2.6zM403.8 258.7h2.6v2.4h-2.6zM409.0 258.7h2.6v2.4h-2.6zM414.2 258.7h2.6v2.4h-2.6zM419.4 258.7h2.6v2.4h-2.6zM424.7 258.7h2.6v2.4h-2.6zM429.9 258.7h2.6v2.4h-2.6zM435.1 258.7h2.6v2.4h-2.6zM440.3 258.7h2.6v2.4h-2.6zM445.5 258.7h2.6v2.4h-2.6zM450.7 258.7h2.6v2.4h-2.6zM455.9 258.7h2.6v2.4h-2.6zM461.2 258.7h2.6v2.4h-2.6zM466.4 258.7h2.6v2.4h-2.6zM471.6 258.7h2.6v2.4h-2.6zM476.8 258.7h2.6v2.4h-2.6zM482.0 258.7h2.6v2.4h-2.6zM487.2 258.7h2.6v2.4h-2.6zM492.5 258.7h2.6v2.4h-2.6zM497.7 258.7h2.6v2.4h-2.6zM502.9 258.7h2.6v2.4h-2.6zM508.1 258.7h2.6v2.4h-2.6zM513.3 258.7h2.6v2.4h-2.6zM518.5 258.7h2.6v2.4h-2.6zM523.7 258.7h2.6v2.4h-2.6zM529.0 258.7h2.6v2.4h-2.6zM544.6 258.7h2.6v2.4h-2.6zM549.8 258.7h2.6v2.4h-2.6zM38.8 263.2h2.6v2.4h-2.6zM44.0 263.2h2.6v2.4h-2.6zM49.2 263.2h2.6v2.4h-2.6zM54.4 263.2h2.6v2.4h-2.6zM59.6 263.2h2.6v2.4h-2.6zM64.8 263.2h2.6v2.4h-2.6zM70.0 263.2h2.6v2.4h-2.6zM75.3 263.2h2.6v2.4h-2.6zM80.5 263.2h2.6v2.4h-2.6zM85.7 263.2h2.6v2.4h-2.6zM90.9 263.2h2.6v2.4h-2.6zM96.1 263.2h2.6v2.4h-2.6zM101.3 263.2h2.6v2.4h-2.6zM106.5 263.2h2.6v2.4h-2.6zM111.8 263.2h2.6v2.4h-2.6zM117.0 263.2h2.6v2.4h-2.6zM122.2 263.2h2.6v2.4h-2.6zM127.4 263.2h2.6v2.4h-2.6zM132.6 263.2h2.6v2.4h-2.6zM137.8 263.2h2.6v2.4h-2.6zM143.0 263.2h2.6v2.4h-2.6zM148.3 263.2h2.6v2.4h-2.6zM153.5 263.2h2.6v2.4h-2.6zM158.7 263.2h2.6v2.4h-2.6zM163.9 263.2h2.6v2.4h-2.6zM169.1 263.2h2.6v2.4h-2.6zM174.3 263.2h2.6v2.4h-2.6zM179.6 263.2h2.6v2.4h-2.6zM184.8 263.2h2.6v2.4h-2.6zM190.0 263.2h2.6v2.4h-2.6zM195.2 263.2h2.6v2.4h-2.6zM200.4 263.2h2.6v2.4h-2.6zM289.1 263.2h2.6v2.4h-2.6zM294.3 263.2h2.6v2.4h-2.6zM299.5 263.2h2.6v2.4h-2.6zM304.7 263.2h2.6v2.4h-2.6zM309.9 263.2h2.6v2.4h-2.6zM315.1 263.2h2.6v2.4h-2.6zM320.4 263.2h2.6v2.4h-2.6zM325.6 263.2h2.6v2.4h-2.6zM330.8 263.2h2.6v2.4h-2.6zM336.0 263.2h2.6v2.4h-2.6zM341.2 263.2h2.6v2.4h-2.6zM346.4 263.2h2.6v2.4h-2.6zM351.6 263.2h2.6v2.4h-2.6zM356.9 263.2h2.6v2.4h-2.6zM362.1 263.2h2.6v2.4h-2.6zM367.3 263.2h2.6v2.4h-2.6zM372.5 263.2h2.6v2.4h-2.6zM377.7 263.2h2.6v2.4h-2.6zM382.9 263.2h2.6v2.4h-2.6zM388.2 263.2h2.6v2.4h-2.6zM393.4 263.2h2.6v2.4h-2.6zM398.6 263.2h2.6v2.4h-2.6zM403.8 263.2h2.6v2.4h-2.6zM409.0 263.2h2.6v2.4h-2.6zM414.2 263.2h2.6v2.4h-2.6zM419.4 263.2h2.6v2.4h-2.6zM424.7 263.2h2.6v2.4h-2.6zM429.9 263.2h2.6v2.4h-2.6zM435.1 263.2h2.6v2.4h-2.6zM440.3 263.2h2.6v2.4h-2.6zM445.5 263.2h2.6v2.4h-2.6zM450.7 263.2h2.6v2.4h-2.6zM455.9 263.2h2.6v2.4h-2.6zM461.2 263.2h2.6v2.4h-2.6zM466.4 263.2h2.6v2.4h-2.6zM471.6 263.2h2.6v2.4h-2.6zM476.8 263.2h2.6v2.4h-2.6zM482.0 263.2h2.6v2.4h-2.6zM487.2 263.2h2.6v2.4h-2.6zM492.5 263.2h2.6v2.4h-2.6zM497.7 263.2h2.6v2.4h-2.6zM502.9 263.2h2.6v2.4h-2.6zM508.1 263.2h2.6v2.4h-2.6zM513.3 263.2h2.6v2.4h-2.6zM518.5 263.2h2.6v2.4h-2.6zM523.7 263.2h2.6v2.4h-2.6zM529.0 263.2h2.6v2.4h-2.6zM534.2 263.2h2.6v2.4h-2.6zM38.8 267.6h2.6v2.4h-2.6zM44.0 267.6h2.6v2.4h-2.6zM49.2 267.6h2.6v2.4h-2.6zM54.4 267.6h2.6v2.4h-2.6zM59.6 267.6h2.6v2.4h-2.6zM64.8 267.6h2.6v2.4h-2.6zM70.0 267.6h2.6v2.4h-2.6zM75.3 267.6h2.6v2.4h-2.6zM80.5 267.6h2.6v2.4h-2.6zM85.7 267.6h2.6v2.4h-2.6zM90.9 267.6h2.6v2.4h-2.6zM96.1 267.6h2.6v2.4h-2.6zM101.3 267.6h2.6v2.4h-2.6zM106.5 267.6h2.6v2.4h-2.6zM111.8 267.6h2.6v2.4h-2.6zM117.0 267.6h2.6v2.4h-2.6zM122.2 267.6h2.6v2.4h-2.6zM127.4 267.6h2.6v2.4h-2.6zM132.6 267.6h2.6v2.4h-2.6zM137.8 267.6h2.6v2.4h-2.6zM143.0 267.6h2.6v2.4h-2.6zM148.3 267.6h2.6v2.4h-2.6zM153.5 267.6h2.6v2.4h-2.6zM158.7 267.6h2.6v2.4h-2.6zM163.9 267.6h2.6v2.4h-2.6zM169.1 267.6h2.6v2.4h-2.6zM174.3 267.6h2.6v2.4h-2.6zM179.6 267.6h2.6v2.4h-2.6zM184.8 267.6h2.6v2.4h-2.6zM190.0 267.6h2.6v2.4h-2.6zM195.2 267.6h2.6v2.4h-2.6zM200.4 267.6h2.6v2.4h-2.6zM289.1 267.6h2.6v2.4h-2.6zM294.3 267.6h2.6v2.4h-2.6zM299.5 267.6h2.6v2.4h-2.6zM304.7 267.6h2.6v2.4h-2.6zM309.9 267.6h2.6v2.4h-2.6zM315.1 267.6h2.6v2.4h-2.6zM320.4 267.6h2.6v2.4h-2.6zM325.6 267.6h2.6v2.4h-2.6zM330.8 267.6h2.6v2.4h-2.6zM336.0 267.6h2.6v2.4h-2.6zM341.2 267.6h2.6v2.4h-2.6zM346.4 267.6h2.6v2.4h-2.6zM351.6 267.6h2.6v2.4h-2.6zM356.9 267.6h2.6v2.4h-2.6zM362.1 267.6h2.6v2.4h-2.6zM367.3 267.6h2.6v2.4h-2.6zM372.5 267.6h2.6v2.4h-2.6zM377.7 267.6h2.6v2.4h-2.6zM382.9 267.6h2.6v2.4h-2.6zM388.2 267.6h2.6v2.4h-2.6zM393.4 267.6h2.6v2.4h-2.6zM398.6 267.6h2.6v2.4h-2.6zM403.8 267.6h2.6v2.4h-2.6zM409.0 267.6h2.6v2.4h-2.6zM414.2 267.6h2.6v2.4h-2.6zM419.4 267.6h2.6v2.4h-2.6zM424.7 267.6h2.6v2.4h-2.6zM429.9 267.6h2.6v2.4h-2.6zM435.1 267.6h2.6v2.4h-2.6zM440.3 267.6h2.6v2.4h-2.6zM445.5 267.6h2.6v2.4h-2.6zM450.7 267.6h2.6v2.4h-2.6zM455.9 267.6h2.6v2.4h-2.6zM461.2 267.6h2.6v2.4h-2.6zM466.4 267.6h2.6v2.4h-2.6zM471.6 267.6h2.6v2.4h-2.6zM476.8 267.6h2.6v2.4h-2.6zM482.0 267.6h2.6v2.4h-2.6zM487.2 267.6h2.6v2.4h-2.6zM492.5 267.6h2.6v2.4h-2.6zM497.7 267.6h2.6v2.4h-2.6zM502.9 267.6h2.6v2.4h-2.6zM508.1 267.6h2.6v2.4h-2.6zM513.3 267.6h2.6v2.4h-2.6zM518.5 267.6h2.6v2.4h-2.6zM523.7 267.6h2.6v2.4h-2.6zM529.0 267.6h2.6v2.4h-2.6zM534.2 267.6h2.6v2.4h-2.6zM38.8 272.1h2.6v2.4h-2.6zM44.0 272.1h2.6v2.4h-2.6zM49.2 272.1h2.6v2.4h-2.6zM54.4 272.1h2.6v2.4h-2.6zM59.6 272.1h2.6v2.4h-2.6zM64.8 272.1h2.6v2.4h-2.6zM70.0 272.1h2.6v2.4h-2.6zM75.3 272.1h2.6v2.4h-2.6zM80.5 272.1h2.6v2.4h-2.6zM85.7 272.1h2.6v2.4h-2.6zM90.9 272.1h2.6v2.4h-2.6zM96.1 272.1h2.6v2.4h-2.6zM101.3 272.1h2.6v2.4h-2.6zM106.5 272.1h2.6v2.4h-2.6zM111.8 272.1h2.6v2.4h-2.6zM117.0 272.1h2.6v2.4h-2.6zM122.2 272.1h2.6v2.4h-2.6zM127.4 272.1h2.6v2.4h-2.6zM132.6 272.1h2.6v2.4h-2.6zM137.8 272.1h2.6v2.4h-2.6zM143.0 272.1h2.6v2.4h-2.6zM148.3 272.1h2.6v2.4h-2.6zM153.5 272.1h2.6v2.4h-2.6zM158.7 272.1h2.6v2.4h-2.6zM163.9 272.1h2.6v2.4h-2.6zM169.1 272.1h2.6v2.4h-2.6zM174.3 272.1h2.6v2.4h-2.6zM179.6 272.1h2.6v2.4h-2.6zM184.8 272.1h2.6v2.4h-2.6zM190.0 272.1h2.6v2.4h-2.6zM195.2 272.1h2.6v2.4h-2.6zM200.4 272.1h2.6v2.4h-2.6zM289.1 272.1h2.6v2.4h-2.6zM294.3 272.1h2.6v2.4h-2.6zM299.5 272.1h2.6v2.4h-2.6zM304.7 272.1h2.6v2.4h-2.6zM309.9 272.1h2.6v2.4h-2.6zM315.1 272.1h2.6v2.4h-2.6zM320.4 272.1h2.6v2.4h-2.6zM325.6 272.1h2.6v2.4h-2.6zM330.8 272.1h2.6v2.4h-2.6zM336.0 272.1h2.6v2.4h-2.6zM341.2 272.1h2.6v2.4h-2.6zM346.4 272.1h2.6v2.4h-2.6zM351.6 272.1h2.6v2.4h-2.6zM356.9 272.1h2.6v2.4h-2.6zM362.1 272.1h2.6v2.4h-2.6zM367.3 272.1h2.6v2.4h-2.6zM372.5 272.1h2.6v2.4h-2.6zM377.7 272.1h2.6v2.4h-2.6zM382.9 272.1h2.6v2.4h-2.6zM388.2 272.1h2.6v2.4h-2.6zM393.4 272.1h2.6v2.4h-2.6zM398.6 272.1h2.6v2.4h-2.6zM403.8 272.1h2.6v2.4h-2.6zM409.0 272.1h2.6v2.4h-2.6zM414.2 272.1h2.6v2.4h-2.6zM419.4 272.1h2.6v2.4h-2.6zM424.7 272.1h2.6v2.4h-2.6zM429.9 272.1h2.6v2.4h-2.6zM435.1 272.1h2.6v2.4h-2.6zM440.3 272.1h2.6v2.4h-2.6zM445.5 272.1h2.6v2.4h-2.6zM450.7 272.1h2.6v2.4h-2.6zM455.9 272.1h2.6v2.4h-2.6zM461.2 272.1h2.6v2.4h-2.6zM466.4 272.1h2.6v2.4h-2.6zM471.6 272.1h2.6v2.4h-2.6zM476.8 272.1h2.6v2.4h-2.6zM482.0 272.1h2.6v2.4h-2.6zM487.2 272.1h2.6v2.4h-2.6zM492.5 272.1h2.6v2.4h-2.6zM497.7 272.1h2.6v2.4h-2.6zM502.9 272.1h2.6v2.4h-2.6zM508.1 272.1h2.6v2.4h-2.6zM513.3 272.1h2.6v2.4h-2.6zM518.5 272.1h2.6v2.4h-2.6zM523.7 272.1h2.6v2.4h-2.6zM529.0 272.1h2.6v2.4h-2.6zM534.2 272.1h2.6v2.4h-2.6zM38.8 276.6h2.6v2.4h-2.6zM44.0 276.6h2.6v2.4h-2.6zM49.2 276.6h2.6v2.4h-2.6zM54.4 276.6h2.6v2.4h-2.6zM59.6 276.6h2.6v2.4h-2.6zM64.8 276.6h2.6v2.4h-2.6zM70.0 276.6h2.6v2.4h-2.6zM75.3 276.6h2.6v2.4h-2.6zM80.5 276.6h2.6v2.4h-2.6zM85.7 276.6h2.6v2.4h-2.6zM90.9 276.6h2.6v2.4h-2.6zM96.1 276.6h2.6v2.4h-2.6zM101.3 276.6h2.6v2.4h-2.6zM106.5 276.6h2.6v2.4h-2.6zM111.8 276.6h2.6v2.4h-2.6zM117.0 276.6h2.6v2.4h-2.6zM122.2 276.6h2.6v2.4h-2.6zM127.4 276.6h2.6v2.4h-2.6zM132.6 276.6h2.6v2.4h-2.6zM137.8 276.6h2.6v2.4h-2.6zM143.0 276.6h2.6v2.4h-2.6zM148.3 276.6h2.6v2.4h-2.6zM153.5 276.6h2.6v2.4h-2.6zM158.7 276.6h2.6v2.4h-2.6zM163.9 276.6h2.6v2.4h-2.6zM169.1 276.6h2.6v2.4h-2.6zM174.3 276.6h2.6v2.4h-2.6zM179.6 276.6h2.6v2.4h-2.6zM184.8 276.6h2.6v2.4h-2.6zM190.0 276.6h2.6v2.4h-2.6zM195.2 276.6h2.6v2.4h-2.6zM200.4 276.6h2.6v2.4h-2.6zM289.1 276.6h2.6v2.4h-2.6zM294.3 276.6h2.6v2.4h-2.6zM299.5 276.6h2.6v2.4h-2.6zM304.7 276.6h2.6v2.4h-2.6zM309.9 276.6h2.6v2.4h-2.6zM315.1 276.6h2.6v2.4h-2.6zM320.4 276.6h2.6v2.4h-2.6zM325.6 276.6h2.6v2.4h-2.6zM330.8 276.6h2.6v2.4h-2.6zM336.0 276.6h2.6v2.4h-2.6zM341.2 276.6h2.6v2.4h-2.6zM346.4 276.6h2.6v2.4h-2.6zM351.6 276.6h2.6v2.4h-2.6zM356.9 276.6h2.6v2.4h-2.6zM362.1 276.6h2.6v2.4h-2.6zM367.3 276.6h2.6v2.4h-2.6zM372.5 276.6h2.6v2.4h-2.6zM377.7 276.6h2.6v2.4h-2.6zM382.9 276.6h2.6v2.4h-2.6zM388.2 276.6h2.6v2.4h-2.6zM393.4 276.6h2.6v2.4h-2.6zM398.6 276.6h2.6v2.4h-2.6zM403.8 276.6h2.6v2.4h-2.6zM409.0 276.6h2.6v2.4h-2.6zM414.2 276.6h2.6v2.4h-2.6zM419.4 276.6h2.6v2.4h-2.6zM424.7 276.6h2.6v2.4h-2.6zM429.9 276.6h2.6v2.4h-2.6zM435.1 276.6h2.6v2.4h-2.6zM440.3 276.6h2.6v2.4h-2.6zM445.5 276.6h2.6v2.4h-2.6zM450.7 276.6h2.6v2.4h-2.6zM455.9 276.6h2.6v2.4h-2.6zM461.2 276.6h2.6v2.4h-2.6zM466.4 276.6h2.6v2.4h-2.6zM471.6 276.6h2.6v2.4h-2.6zM476.8 276.6h2.6v2.4h-2.6zM482.0 276.6h2.6v2.4h-2.6zM487.2 276.6h2.6v2.4h-2.6zM492.5 276.6h2.6v2.4h-2.6zM497.7 276.6h2.6v2.4h-2.6zM96.1 281.0h2.6v2.4h-2.6zM101.3 281.0h2.6v2.4h-2.6zM106.5 281.0h2.6v2.4h-2.6zM111.8 281.0h2.6v2.4h-2.6zM117.0 281.0h2.6v2.4h-2.6zM122.2 281.0h2.6v2.4h-2.6zM127.4 281.0h2.6v2.4h-2.6zM132.6 281.0h2.6v2.4h-2.6zM137.8 281.0h2.6v2.4h-2.6zM143.0 281.0h2.6v2.4h-2.6zM148.3 281.0h2.6v2.4h-2.6zM153.5 281.0h2.6v2.4h-2.6zM158.7 281.0h2.6v2.4h-2.6zM163.9 281.0h2.6v2.4h-2.6zM169.1 281.0h2.6v2.4h-2.6zM174.3 281.0h2.6v2.4h-2.6zM179.6 281.0h2.6v2.4h-2.6zM184.8 281.0h2.6v2.4h-2.6zM190.0 281.0h2.6v2.4h-2.6zM195.2 281.0h2.6v2.4h-2.6zM200.4 281.0h2.6v2.4h-2.6zM289.1 281.0h2.6v2.4h-2.6zM294.3 281.0h2.6v2.4h-2.6zM299.5 281.0h2.6v2.4h-2.6zM304.7 281.0h2.6v2.4h-2.6zM309.9 281.0h2.6v2.4h-2.6zM315.1 281.0h2.6v2.4h-2.6zM320.4 281.0h2.6v2.4h-2.6zM325.6 281.0h2.6v2.4h-2.6zM330.8 281.0h2.6v2.4h-2.6zM336.0 281.0h2.6v2.4h-2.6zM341.2 281.0h2.6v2.4h-2.6zM346.4 281.0h2.6v2.4h-2.6zM351.6 281.0h2.6v2.4h-2.6zM356.9 281.0h2.6v2.4h-2.6zM362.1 281.0h2.6v2.4h-2.6zM367.3 281.0h2.6v2.4h-2.6zM372.5 281.0h2.6v2.4h-2.6zM377.7 281.0h2.6v2.4h-2.6zM382.9 281.0h2.6v2.4h-2.6zM388.2 281.0h2.6v2.4h-2.6zM393.4 281.0h2.6v2.4h-2.6zM398.6 281.0h2.6v2.4h-2.6zM403.8 281.0h2.6v2.4h-2.6zM409.0 281.0h2.6v2.4h-2.6zM414.2 281.0h2.6v2.4h-2.6zM419.4 281.0h2.6v2.4h-2.6zM424.7 281.0h2.6v2.4h-2.6zM429.9 281.0h2.6v2.4h-2.6zM435.1 281.0h2.6v2.4h-2.6zM440.3 281.0h2.6v2.4h-2.6zM445.5 281.0h2.6v2.4h-2.6zM450.7 281.0h2.6v2.4h-2.6zM455.9 281.0h2.6v2.4h-2.6zM461.2 281.0h2.6v2.4h-2.6zM466.4 281.0h2.6v2.4h-2.6zM471.6 281.0h2.6v2.4h-2.6zM476.8 281.0h2.6v2.4h-2.6zM482.0 281.0h2.6v2.4h-2.6zM487.2 281.0h2.6v2.4h-2.6zM492.5 281.0h2.6v2.4h-2.6zM497.7 281.0h2.6v2.4h-2.6zM96.1 285.5h2.6v2.4h-2.6zM101.3 285.5h2.6v2.4h-2.6zM106.5 285.5h2.6v2.4h-2.6zM111.8 285.5h2.6v2.4h-2.6zM117.0 285.5h2.6v2.4h-2.6zM122.2 285.5h2.6v2.4h-2.6zM127.4 285.5h2.6v2.4h-2.6zM132.6 285.5h2.6v2.4h-2.6zM137.8 285.5h2.6v2.4h-2.6zM143.0 285.5h2.6v2.4h-2.6zM148.3 285.5h2.6v2.4h-2.6zM153.5 285.5h2.6v2.4h-2.6zM158.7 285.5h2.6v2.4h-2.6zM163.9 285.5h2.6v2.4h-2.6zM169.1 285.5h2.6v2.4h-2.6zM174.3 285.5h2.6v2.4h-2.6zM179.6 285.5h2.6v2.4h-2.6zM184.8 285.5h2.6v2.4h-2.6zM190.0 285.5h2.6v2.4h-2.6zM195.2 285.5h2.6v2.4h-2.6zM200.4 285.5h2.6v2.4h-2.6zM294.3 285.5h2.6v2.4h-2.6zM299.5 285.5h2.6v2.4h-2.6zM304.7 285.5h2.6v2.4h-2.6zM309.9 285.5h2.6v2.4h-2.6zM315.1 285.5h2.6v2.4h-2.6zM320.4 285.5h2.6v2.4h-2.6zM325.6 285.5h2.6v2.4h-2.6zM330.8 285.5h2.6v2.4h-2.6zM336.0 285.5h2.6v2.4h-2.6zM341.2 285.5h2.6v2.4h-2.6zM346.4 285.5h2.6v2.4h-2.6zM351.6 285.5h2.6v2.4h-2.6zM356.9 285.5h2.6v2.4h-2.6zM362.1 285.5h2.6v2.4h-2.6zM367.3 285.5h2.6v2.4h-2.6zM372.5 285.5h2.6v2.4h-2.6zM377.7 285.5h2.6v2.4h-2.6zM382.9 285.5h2.6v2.4h-2.6zM388.2 285.5h2.6v2.4h-2.6zM393.4 285.5h2.6v2.4h-2.6zM398.6 285.5h2.6v2.4h-2.6zM403.8 285.5h2.6v2.4h-2.6zM409.0 285.5h2.6v2.4h-2.6zM414.2 285.5h2.6v2.4h-2.6zM419.4 285.5h2.6v2.4h-2.6zM424.7 285.5h2.6v2.4h-2.6zM429.9 285.5h2.6v2.4h-2.6zM435.1 285.5h2.6v2.4h-2.6zM440.3 285.5h2.6v2.4h-2.6zM445.5 285.5h2.6v2.4h-2.6zM450.7 285.5h2.6v2.4h-2.6zM455.9 285.5h2.6v2.4h-2.6zM461.2 285.5h2.6v2.4h-2.6zM466.4 285.5h2.6v2.4h-2.6zM471.6 285.5h2.6v2.4h-2.6zM476.8 285.5h2.6v2.4h-2.6zM482.0 285.5h2.6v2.4h-2.6zM487.2 285.5h2.6v2.4h-2.6zM492.5 285.5h2.6v2.4h-2.6zM497.7 285.5h2.6v2.4h-2.6zM101.3 290.0h2.6v2.4h-2.6zM106.5 290.0h2.6v2.4h-2.6zM111.8 290.0h2.6v2.4h-2.6zM117.0 290.0h2.6v2.4h-2.6zM122.2 290.0h2.6v2.4h-2.6zM127.4 290.0h2.6v2.4h-2.6zM132.6 290.0h2.6v2.4h-2.6zM137.8 290.0h2.6v2.4h-2.6zM143.0 290.0h2.6v2.4h-2.6zM148.3 290.0h2.6v2.4h-2.6zM153.5 290.0h2.6v2.4h-2.6zM158.7 290.0h2.6v2.4h-2.6zM163.9 290.0h2.6v2.4h-2.6zM169.1 290.0h2.6v2.4h-2.6zM174.3 290.0h2.6v2.4h-2.6zM179.6 290.0h2.6v2.4h-2.6zM184.8 290.0h2.6v2.4h-2.6zM190.0 290.0h2.6v2.4h-2.6zM195.2 290.0h2.6v2.4h-2.6zM294.3 290.0h2.6v2.4h-2.6zM299.5 290.0h2.6v2.4h-2.6zM304.7 290.0h2.6v2.4h-2.6zM309.9 290.0h2.6v2.4h-2.6zM315.1 290.0h2.6v2.4h-2.6zM320.4 290.0h2.6v2.4h-2.6zM325.6 290.0h2.6v2.4h-2.6zM330.8 290.0h2.6v2.4h-2.6zM336.0 290.0h2.6v2.4h-2.6zM341.2 290.0h2.6v2.4h-2.6zM346.4 290.0h2.6v2.4h-2.6zM351.6 290.0h2.6v2.4h-2.6zM356.9 290.0h2.6v2.4h-2.6zM362.1 290.0h2.6v2.4h-2.6zM367.3 290.0h2.6v2.4h-2.6zM372.5 290.0h2.6v2.4h-2.6zM377.7 290.0h2.6v2.4h-2.6zM382.9 290.0h2.6v2.4h-2.6zM388.2 290.0h2.6v2.4h-2.6zM393.4 290.0h2.6v2.4h-2.6zM398.6 290.0h2.6v2.4h-2.6zM403.8 290.0h2.6v2.4h-2.6zM409.0 290.0h2.6v2.4h-2.6zM414.2 290.0h2.6v2.4h-2.6zM419.4 290.0h2.6v2.4h-2.6zM424.7 290.0h2.6v2.4h-2.6zM429.9 290.0h2.6v2.4h-2.6zM435.1 290.0h2.6v2.4h-2.6zM440.3 290.0h2.6v2.4h-2.6zM445.5 290.0h2.6v2.4h-2.6zM450.7 290.0h2.6v2.4h-2.6zM455.9 290.0h2.6v2.4h-2.6zM461.2 290.0h2.6v2.4h-2.6zM466.4 290.0h2.6v2.4h-2.6zM471.6 290.0h2.6v2.4h-2.6zM476.8 290.0h2.6v2.4h-2.6zM482.0 290.0h2.6v2.4h-2.6zM487.2 290.0h2.6v2.4h-2.6zM492.5 290.0h2.6v2.4h-2.6zM497.7 290.0h2.6v2.4h-2.6zM106.5 294.4h2.6v2.4h-2.6zM111.8 294.4h2.6v2.4h-2.6zM117.0 294.4h2.6v2.4h-2.6zM122.2 294.4h2.6v2.4h-2.6zM127.4 294.4h2.6v2.4h-2.6zM132.6 294.4h2.6v2.4h-2.6zM137.8 294.4h2.6v2.4h-2.6zM143.0 294.4h2.6v2.4h-2.6zM148.3 294.4h2.6v2.4h-2.6zM153.5 294.4h2.6v2.4h-2.6zM158.7 294.4h2.6v2.4h-2.6zM163.9 294.4h2.6v2.4h-2.6zM169.1 294.4h2.6v2.4h-2.6zM174.3 294.4h2.6v2.4h-2.6zM179.6 294.4h2.6v2.4h-2.6zM184.8 294.4h2.6v2.4h-2.6zM190.0 294.4h2.6v2.4h-2.6zM294.3 294.4h2.6v2.4h-2.6zM299.5 294.4h2.6v2.4h-2.6zM304.7 294.4h2.6v2.4h-2.6zM309.9 294.4h2.6v2.4h-2.6zM315.1 294.4h2.6v2.4h-2.6zM320.4 294.4h2.6v2.4h-2.6zM325.6 294.4h2.6v2.4h-2.6zM330.8 294.4h2.6v2.4h-2.6zM336.0 294.4h2.6v2.4h-2.6zM341.2 294.4h2.6v2.4h-2.6zM346.4 294.4h2.6v2.4h-2.6zM351.6 294.4h2.6v2.4h-2.6zM356.9 294.4h2.6v2.4h-2.6zM362.1 294.4h2.6v2.4h-2.6zM367.3 294.4h2.6v2.4h-2.6zM372.5 294.4h2.6v2.4h-2.6zM377.7 294.4h2.6v2.4h-2.6zM382.9 294.4h2.6v2.4h-2.6zM388.2 294.4h2.6v2.4h-2.6zM393.4 294.4h2.6v2.4h-2.6zM398.6 294.4h2.6v2.4h-2.6zM403.8 294.4h2.6v2.4h-2.6zM409.0 294.4h2.6v2.4h-2.6zM414.2 294.4h2.6v2.4h-2.6zM419.4 294.4h2.6v2.4h-2.6zM424.7 294.4h2.6v2.4h-2.6zM429.9 294.4h2.6v2.4h-2.6zM435.1 294.4h2.6v2.4h-2.6zM440.3 294.4h2.6v2.4h-2.6zM445.5 294.4h2.6v2.4h-2.6zM450.7 294.4h2.6v2.4h-2.6zM455.9 294.4h2.6v2.4h-2.6zM461.2 294.4h2.6v2.4h-2.6zM466.4 294.4h2.6v2.4h-2.6zM471.6 294.4h2.6v2.4h-2.6zM476.8 294.4h2.6v2.4h-2.6zM482.0 294.4h2.6v2.4h-2.6zM487.2 294.4h2.6v2.4h-2.6zM492.5 294.4h2.6v2.4h-2.6zM497.7 294.4h2.6v2.4h-2.6zM106.5 298.9h2.6v2.4h-2.6zM111.8 298.9h2.6v2.4h-2.6zM117.0 298.9h2.6v2.4h-2.6zM122.2 298.9h2.6v2.4h-2.6zM127.4 298.9h2.6v2.4h-2.6zM132.6 298.9h2.6v2.4h-2.6zM137.8 298.9h2.6v2.4h-2.6zM143.0 298.9h2.6v2.4h-2.6zM148.3 298.9h2.6v2.4h-2.6zM153.5 298.9h2.6v2.4h-2.6zM158.7 298.9h2.6v2.4h-2.6zM163.9 298.9h2.6v2.4h-2.6zM169.1 298.9h2.6v2.4h-2.6zM174.3 298.9h2.6v2.4h-2.6zM179.6 298.9h2.6v2.4h-2.6zM299.5 298.9h2.6v2.4h-2.6zM304.7 298.9h2.6v2.4h-2.6zM309.9 298.9h2.6v2.4h-2.6zM315.1 298.9h2.6v2.4h-2.6zM320.4 298.9h2.6v2.4h-2.6zM325.6 298.9h2.6v2.4h-2.6zM330.8 298.9h2.6v2.4h-2.6zM336.0 298.9h2.6v2.4h-2.6zM341.2 298.9h2.6v2.4h-2.6zM346.4 298.9h2.6v2.4h-2.6zM351.6 298.9h2.6v2.4h-2.6zM356.9 298.9h2.6v2.4h-2.6zM362.1 298.9h2.6v2.4h-2.6zM367.3 298.9h2.6v2.4h-2.6zM372.5 298.9h2.6v2.4h-2.6zM377.7 298.9h2.6v2.4h-2.6zM382.9 298.9h2.6v2.4h-2.6zM388.2 298.9h2.6v2.4h-2.6zM393.4 298.9h2.6v2.4h-2.6zM398.6 298.9h2.6v2.4h-2.6zM403.8 298.9h2.6v2.4h-2.6zM409.0 298.9h2.6v2.4h-2.6zM414.2 298.9h2.6v2.4h-2.6zM419.4 298.9h2.6v2.4h-2.6zM424.7 298.9h2.6v2.4h-2.6zM429.9 298.9h2.6v2.4h-2.6zM435.1 298.9h2.6v2.4h-2.6zM440.3 298.9h2.6v2.4h-2.6zM445.5 298.9h2.6v2.4h-2.6zM450.7 298.9h2.6v2.4h-2.6zM455.9 298.9h2.6v2.4h-2.6zM461.2 298.9h2.6v2.4h-2.6zM466.4 298.9h2.6v2.4h-2.6zM471.6 298.9h2.6v2.4h-2.6zM476.8 298.9h2.6v2.4h-2.6zM482.0 298.9h2.6v2.4h-2.6zM111.8 303.4h2.6v2.4h-2.6zM117.0 303.4h2.6v2.4h-2.6zM122.2 303.4h2.6v2.4h-2.6zM127.4 303.4h2.6v2.4h-2.6zM132.6 303.4h2.6v2.4h-2.6zM137.8 303.4h2.6v2.4h-2.6zM143.0 303.4h2.6v2.4h-2.6zM148.3 303.4h2.6v2.4h-2.6zM153.5 303.4h2.6v2.4h-2.6zM158.7 303.4h2.6v2.4h-2.6zM163.9 303.4h2.6v2.4h-2.6zM169.1 303.4h2.6v2.4h-2.6zM174.3 303.4h2.6v2.4h-2.6zM299.5 303.4h2.6v2.4h-2.6zM304.7 303.4h2.6v2.4h-2.6zM309.9 303.4h2.6v2.4h-2.6zM315.1 303.4h2.6v2.4h-2.6zM320.4 303.4h2.6v2.4h-2.6zM325.6 303.4h2.6v2.4h-2.6zM330.8 303.4h2.6v2.4h-2.6zM336.0 303.4h2.6v2.4h-2.6zM341.2 303.4h2.6v2.4h-2.6zM346.4 303.4h2.6v2.4h-2.6zM351.6 303.4h2.6v2.4h-2.6zM356.9 303.4h2.6v2.4h-2.6zM362.1 303.4h2.6v2.4h-2.6zM367.3 303.4h2.6v2.4h-2.6zM372.5 303.4h2.6v2.4h-2.6zM377.7 303.4h2.6v2.4h-2.6zM382.9 303.4h2.6v2.4h-2.6zM388.2 303.4h2.6v2.4h-2.6zM393.4 303.4h2.6v2.4h-2.6zM398.6 303.4h2.6v2.4h-2.6zM403.8 303.4h2.6v2.4h-2.6zM409.0 303.4h2.6v2.4h-2.6zM414.2 303.4h2.6v2.4h-2.6zM419.4 303.4h2.6v2.4h-2.6zM424.7 303.4h2.6v2.4h-2.6zM429.9 303.4h2.6v2.4h-2.6zM435.1 303.4h2.6v2.4h-2.6zM440.3 303.4h2.6v2.4h-2.6zM445.5 303.4h2.6v2.4h-2.6zM450.7 303.4h2.6v2.4h-2.6zM455.9 303.4h2.6v2.4h-2.6zM461.2 303.4h2.6v2.4h-2.6zM466.4 303.4h2.6v2.4h-2.6zM471.6 303.4h2.6v2.4h-2.6zM487.2 303.4h2.6v2.4h-2.6zM111.8 307.9h2.6v2.4h-2.6zM117.0 307.9h2.6v2.4h-2.6zM122.2 307.9h2.6v2.4h-2.6zM127.4 307.9h2.6v2.4h-2.6zM132.6 307.9h2.6v2.4h-2.6zM137.8 307.9h2.6v2.4h-2.6zM143.0 307.9h2.6v2.4h-2.6zM148.3 307.9h2.6v2.4h-2.6zM153.5 307.9h2.6v2.4h-2.6zM158.7 307.9h2.6v2.4h-2.6zM163.9 307.9h2.6v2.4h-2.6zM169.1 307.9h2.6v2.4h-2.6zM299.5 307.9h2.6v2.4h-2.6zM304.7 307.9h2.6v2.4h-2.6zM309.9 307.9h2.6v2.4h-2.6zM315.1 307.9h2.6v2.4h-2.6zM320.4 307.9h2.6v2.4h-2.6zM325.6 307.9h2.6v2.4h-2.6zM330.8 307.9h2.6v2.4h-2.6zM336.0 307.9h2.6v2.4h-2.6zM341.2 307.9h2.6v2.4h-2.6zM346.4 307.9h2.6v2.4h-2.6zM351.6 307.9h2.6v2.4h-2.6zM356.9 307.9h2.6v2.4h-2.6zM362.1 307.9h2.6v2.4h-2.6zM367.3 307.9h2.6v2.4h-2.6zM372.5 307.9h2.6v2.4h-2.6zM377.7 307.9h2.6v2.4h-2.6zM382.9 307.9h2.6v2.4h-2.6zM388.2 307.9h2.6v2.4h-2.6zM393.4 307.9h2.6v2.4h-2.6zM398.6 307.9h2.6v2.4h-2.6zM403.8 307.9h2.6v2.4h-2.6zM409.0 307.9h2.6v2.4h-2.6zM414.2 307.9h2.6v2.4h-2.6zM419.4 307.9h2.6v2.4h-2.6zM424.7 307.9h2.6v2.4h-2.6zM429.9 307.9h2.6v2.4h-2.6zM435.1 307.9h2.6v2.4h-2.6zM440.3 307.9h2.6v2.4h-2.6zM445.5 307.9h2.6v2.4h-2.6zM450.7 307.9h2.6v2.4h-2.6zM455.9 307.9h2.6v2.4h-2.6zM461.2 307.9h2.6v2.4h-2.6zM466.4 307.9h2.6v2.4h-2.6zM471.6 307.9h2.6v2.4h-2.6zM476.8 307.9h2.6v2.4h-2.6zM482.0 307.9h2.6v2.4h-2.6zM487.2 307.9h2.6v2.4h-2.6zM117.0 312.3h2.6v2.4h-2.6zM122.2 312.3h2.6v2.4h-2.6zM127.4 312.3h2.6v2.4h-2.6zM132.6 312.3h2.6v2.4h-2.6zM137.8 312.3h2.6v2.4h-2.6zM143.0 312.3h2.6v2.4h-2.6zM148.3 312.3h2.6v2.4h-2.6zM153.5 312.3h2.6v2.4h-2.6zM158.7 312.3h2.6v2.4h-2.6zM163.9 312.3h2.6v2.4h-2.6zM299.5 312.3h2.6v2.4h-2.6zM304.7 312.3h2.6v2.4h-2.6zM309.9 312.3h2.6v2.4h-2.6zM315.1 312.3h2.6v2.4h-2.6zM320.4 312.3h2.6v2.4h-2.6zM325.6 312.3h2.6v2.4h-2.6zM330.8 312.3h2.6v2.4h-2.6zM336.0 312.3h2.6v2.4h-2.6zM341.2 312.3h2.6v2.4h-2.6zM346.4 312.3h2.6v2.4h-2.6zM351.6 312.3h2.6v2.4h-2.6zM356.9 312.3h2.6v2.4h-2.6zM362.1 312.3h2.6v2.4h-2.6zM367.3 312.3h2.6v2.4h-2.6zM372.5 312.3h2.6v2.4h-2.6zM377.7 312.3h2.6v2.4h-2.6zM382.9 312.3h2.6v2.4h-2.6zM388.2 312.3h2.6v2.4h-2.6zM393.4 312.3h2.6v2.4h-2.6zM398.6 312.3h2.6v2.4h-2.6zM403.8 312.3h2.6v2.4h-2.6zM409.0 312.3h2.6v2.4h-2.6zM414.2 312.3h2.6v2.4h-2.6zM419.4 312.3h2.6v2.4h-2.6zM424.7 312.3h2.6v2.4h-2.6zM429.9 312.3h2.6v2.4h-2.6zM435.1 312.3h2.6v2.4h-2.6zM440.3 312.3h2.6v2.4h-2.6zM445.5 312.3h2.6v2.4h-2.6zM450.7 312.3h2.6v2.4h-2.6zM455.9 312.3h2.6v2.4h-2.6zM461.2 312.3h2.6v2.4h-2.6zM466.4 312.3h2.6v2.4h-2.6zM476.8 312.3h2.6v2.4h-2.6zM482.0 312.3h2.6v2.4h-2.6zM117.0 316.8h2.6v2.4h-2.6zM122.2 316.8h2.6v2.4h-2.6zM127.4 316.8h2.6v2.4h-2.6zM132.6 316.8h2.6v2.4h-2.6zM137.8 316.8h2.6v2.4h-2.6zM143.0 316.8h2.6v2.4h-2.6zM148.3 316.8h2.6v2.4h-2.6zM153.5 316.8h2.6v2.4h-2.6zM158.7 316.8h2.6v2.4h-2.6zM163.9 316.8h2.6v2.4h-2.6zM299.5 316.8h2.6v2.4h-2.6zM304.7 316.8h2.6v2.4h-2.6zM309.9 316.8h2.6v2.4h-2.6zM315.1 316.8h2.6v2.4h-2.6zM320.4 316.8h2.6v2.4h-2.6zM325.6 316.8h2.6v2.4h-2.6zM330.8 316.8h2.6v2.4h-2.6zM336.0 316.8h2.6v2.4h-2.6zM341.2 316.8h2.6v2.4h-2.6zM346.4 316.8h2.6v2.4h-2.6zM351.6 316.8h2.6v2.4h-2.6zM356.9 316.8h2.6v2.4h-2.6zM362.1 316.8h2.6v2.4h-2.6zM367.3 316.8h2.6v2.4h-2.6zM372.5 316.8h2.6v2.4h-2.6zM377.7 316.8h2.6v2.4h-2.6zM382.9 316.8h2.6v2.4h-2.6zM388.2 316.8h2.6v2.4h-2.6zM393.4 316.8h2.6v2.4h-2.6zM398.6 316.8h2.6v2.4h-2.6zM403.8 316.8h2.6v2.4h-2.6zM409.0 316.8h2.6v2.4h-2.6zM414.2 316.8h2.6v2.4h-2.6zM419.4 316.8h2.6v2.4h-2.6zM424.7 316.8h2.6v2.4h-2.6zM429.9 316.8h2.6v2.4h-2.6zM435.1 316.8h2.6v2.4h-2.6zM440.3 316.8h2.6v2.4h-2.6zM445.5 316.8h2.6v2.4h-2.6zM450.7 316.8h2.6v2.4h-2.6zM455.9 316.8h2.6v2.4h-2.6zM461.2 316.8h2.6v2.4h-2.6zM466.4 316.8h2.6v2.4h-2.6zM476.8 316.8h2.6v2.4h-2.6zM117.0 321.3h2.6v2.4h-2.6zM122.2 321.3h2.6v2.4h-2.6zM127.4 321.3h2.6v2.4h-2.6zM132.6 321.3h2.6v2.4h-2.6zM137.8 321.3h2.6v2.4h-2.6zM143.0 321.3h2.6v2.4h-2.6zM148.3 321.3h2.6v2.4h-2.6zM153.5 321.3h2.6v2.4h-2.6zM158.7 321.3h2.6v2.4h-2.6zM163.9 321.3h2.6v2.4h-2.6zM169.1 321.3h2.6v2.4h-2.6zM299.5 321.3h2.6v2.4h-2.6zM304.7 321.3h2.6v2.4h-2.6zM309.9 321.3h2.6v2.4h-2.6zM315.1 321.3h2.6v2.4h-2.6zM320.4 321.3h2.6v2.4h-2.6zM325.6 321.3h2.6v2.4h-2.6zM330.8 321.3h2.6v2.4h-2.6zM336.0 321.3h2.6v2.4h-2.6zM341.2 321.3h2.6v2.4h-2.6zM346.4 321.3h2.6v2.4h-2.6zM351.6 321.3h2.6v2.4h-2.6zM356.9 321.3h2.6v2.4h-2.6zM362.1 321.3h2.6v2.4h-2.6zM367.3 321.3h2.6v2.4h-2.6zM372.5 321.3h2.6v2.4h-2.6zM377.7 321.3h2.6v2.4h-2.6zM382.9 321.3h2.6v2.4h-2.6zM388.2 321.3h2.6v2.4h-2.6zM393.4 321.3h2.6v2.4h-2.6zM398.6 321.3h2.6v2.4h-2.6zM403.8 321.3h2.6v2.4h-2.6zM409.0 321.3h2.6v2.4h-2.6zM414.2 321.3h2.6v2.4h-2.6zM419.4 321.3h2.6v2.4h-2.6zM424.7 321.3h2.6v2.4h-2.6zM429.9 321.3h2.6v2.4h-2.6zM435.1 321.3h2.6v2.4h-2.6zM440.3 321.3h2.6v2.4h-2.6zM445.5 321.3h2.6v2.4h-2.6zM450.7 321.3h2.6v2.4h-2.6zM455.9 321.3h2.6v2.4h-2.6zM461.2 321.3h2.6v2.4h-2.6zM466.4 321.3h2.6v2.4h-2.6zM471.6 321.3h2.6v2.4h-2.6zM122.2 325.7h2.6v2.4h-2.6zM127.4 325.7h2.6v2.4h-2.6zM132.6 325.7h2.6v2.4h-2.6zM137.8 325.7h2.6v2.4h-2.6zM143.0 325.7h2.6v2.4h-2.6zM148.3 325.7h2.6v2.4h-2.6zM153.5 325.7h2.6v2.4h-2.6zM158.7 325.7h2.6v2.4h-2.6zM163.9 325.7h2.6v2.4h-2.6zM169.1 325.7h2.6v2.4h-2.6zM174.3 325.7h2.6v2.4h-2.6zM299.5 325.7h2.6v2.4h-2.6zM304.7 325.7h2.6v2.4h-2.6zM309.9 325.7h2.6v2.4h-2.6zM315.1 325.7h2.6v2.4h-2.6zM320.4 325.7h2.6v2.4h-2.6zM325.6 325.7h2.6v2.4h-2.6zM330.8 325.7h2.6v2.4h-2.6zM336.0 325.7h2.6v2.4h-2.6zM341.2 325.7h2.6v2.4h-2.6zM346.4 325.7h2.6v2.4h-2.6zM351.6 325.7h2.6v2.4h-2.6zM356.9 325.7h2.6v2.4h-2.6zM362.1 325.7h2.6v2.4h-2.6zM367.3 325.7h2.6v2.4h-2.6zM372.5 325.7h2.6v2.4h-2.6zM377.7 325.7h2.6v2.4h-2.6zM382.9 325.7h2.6v2.4h-2.6zM388.2 325.7h2.6v2.4h-2.6zM393.4 325.7h2.6v2.4h-2.6zM398.6 325.7h2.6v2.4h-2.6zM403.8 325.7h2.6v2.4h-2.6zM409.0 325.7h2.6v2.4h-2.6zM414.2 325.7h2.6v2.4h-2.6zM419.4 325.7h2.6v2.4h-2.6zM424.7 325.7h2.6v2.4h-2.6zM429.9 325.7h2.6v2.4h-2.6zM435.1 325.7h2.6v2.4h-2.6zM440.3 325.7h2.6v2.4h-2.6zM445.5 325.7h2.6v2.4h-2.6zM450.7 325.7h2.6v2.4h-2.6zM455.9 325.7h2.6v2.4h-2.6zM461.2 325.7h2.6v2.4h-2.6zM466.4 325.7h2.6v2.4h-2.6zM471.6 325.7h2.6v2.4h-2.6zM148.3 330.2h2.6v2.4h-2.6zM153.5 330.2h2.6v2.4h-2.6zM158.7 330.2h2.6v2.4h-2.6zM163.9 330.2h2.6v2.4h-2.6zM169.1 330.2h2.6v2.4h-2.6zM174.3 330.2h2.6v2.4h-2.6zM179.6 330.2h2.6v2.4h-2.6zM299.5 330.2h2.6v2.4h-2.6zM304.7 330.2h2.6v2.4h-2.6zM309.9 330.2h2.6v2.4h-2.6zM315.1 330.2h2.6v2.4h-2.6zM320.4 330.2h2.6v2.4h-2.6zM325.6 330.2h2.6v2.4h-2.6zM330.8 330.2h2.6v2.4h-2.6zM336.0 330.2h2.6v2.4h-2.6zM341.2 330.2h2.6v2.4h-2.6zM346.4 330.2h2.6v2.4h-2.6zM351.6 330.2h2.6v2.4h-2.6zM356.9 330.2h2.6v2.4h-2.6zM362.1 330.2h2.6v2.4h-2.6zM367.3 330.2h2.6v2.4h-2.6zM372.5 330.2h2.6v2.4h-2.6zM377.7 330.2h2.6v2.4h-2.6zM382.9 330.2h2.6v2.4h-2.6zM388.2 330.2h2.6v2.4h-2.6zM393.4 330.2h2.6v2.4h-2.6zM398.6 330.2h2.6v2.4h-2.6zM403.8 330.2h2.6v2.4h-2.6zM409.0 330.2h2.6v2.4h-2.6zM414.2 330.2h2.6v2.4h-2.6zM419.4 330.2h2.6v2.4h-2.6zM424.7 330.2h2.6v2.4h-2.6zM429.9 330.2h2.6v2.4h-2.6zM435.1 330.2h2.6v2.4h-2.6zM440.3 330.2h2.6v2.4h-2.6zM445.5 330.2h2.6v2.4h-2.6zM450.7 330.2h2.6v2.4h-2.6zM455.9 330.2h2.6v2.4h-2.6zM461.2 330.2h2.6v2.4h-2.6zM466.4 330.2h2.6v2.4h-2.6zM153.5 334.7h2.6v2.4h-2.6zM158.7 334.7h2.6v2.4h-2.6zM163.9 334.7h2.6v2.4h-2.6zM169.1 334.7h2.6v2.4h-2.6zM174.3 334.7h2.6v2.4h-2.6zM179.6 334.7h2.6v2.4h-2.6zM299.5 334.7h2.6v2.4h-2.6zM304.7 334.7h2.6v2.4h-2.6zM309.9 334.7h2.6v2.4h-2.6zM315.1 334.7h2.6v2.4h-2.6zM320.4 334.7h2.6v2.4h-2.6zM325.6 334.7h2.6v2.4h-2.6zM330.8 334.7h2.6v2.4h-2.6zM336.0 334.7h2.6v2.4h-2.6zM341.2 334.7h2.6v2.4h-2.6zM346.4 334.7h2.6v2.4h-2.6zM351.6 334.7h2.6v2.4h-2.6zM356.9 334.7h2.6v2.4h-2.6zM362.1 334.7h2.6v2.4h-2.6zM367.3 334.7h2.6v2.4h-2.6zM372.5 334.7h2.6v2.4h-2.6zM377.7 334.7h2.6v2.4h-2.6zM382.9 334.7h2.6v2.4h-2.6zM388.2 334.7h2.6v2.4h-2.6zM393.4 334.7h2.6v2.4h-2.6zM398.6 334.7h2.6v2.4h-2.6zM403.8 334.7h2.6v2.4h-2.6zM409.0 334.7h2.6v2.4h-2.6zM414.2 334.7h2.6v2.4h-2.6zM419.4 334.7h2.6v2.4h-2.6zM424.7 334.7h2.6v2.4h-2.6zM429.9 334.7h2.6v2.4h-2.6zM435.1 334.7h2.6v2.4h-2.6zM440.3 334.7h2.6v2.4h-2.6zM445.5 334.7h2.6v2.4h-2.6zM450.7 334.7h2.6v2.4h-2.6zM455.9 334.7h2.6v2.4h-2.6zM461.2 334.7h2.6v2.4h-2.6zM466.4 334.7h2.6v2.4h-2.6zM158.7 339.2h2.6v2.4h-2.6zM163.9 339.2h2.6v2.4h-2.6zM169.1 339.2h2.6v2.4h-2.6zM174.3 339.2h2.6v2.4h-2.6zM179.6 339.2h2.6v2.4h-2.6zM299.5 339.2h2.6v2.4h-2.6zM304.7 339.2h2.6v2.4h-2.6zM309.9 339.2h2.6v2.4h-2.6zM315.1 339.2h2.6v2.4h-2.6zM320.4 339.2h2.6v2.4h-2.6zM325.6 339.2h2.6v2.4h-2.6zM330.8 339.2h2.6v2.4h-2.6zM336.0 339.2h2.6v2.4h-2.6zM341.2 339.2h2.6v2.4h-2.6zM346.4 339.2h2.6v2.4h-2.6zM351.6 339.2h2.6v2.4h-2.6zM356.9 339.2h2.6v2.4h-2.6zM362.1 339.2h2.6v2.4h-2.6zM409.0 339.2h2.6v2.4h-2.6zM414.2 339.2h2.6v2.4h-2.6zM419.4 339.2h2.6v2.4h-2.6zM424.7 339.2h2.6v2.4h-2.6zM429.9 339.2h2.6v2.4h-2.6zM435.1 339.2h2.6v2.4h-2.6zM440.3 339.2h2.6v2.4h-2.6zM445.5 339.2h2.6v2.4h-2.6zM450.7 339.2h2.6v2.4h-2.6zM455.9 339.2h2.6v2.4h-2.6zM461.2 339.2h2.6v2.4h-2.6zM466.4 339.2h2.6v2.4h-2.6zM158.7 343.6h2.6v2.4h-2.6zM163.9 343.6h2.6v2.4h-2.6zM169.1 343.6h2.6v2.4h-2.6zM174.3 343.6h2.6v2.4h-2.6zM195.2 343.6h2.6v2.4h-2.6zM200.4 343.6h2.6v2.4h-2.6zM299.5 343.6h2.6v2.4h-2.6zM304.7 343.6h2.6v2.4h-2.6zM309.9 343.6h2.6v2.4h-2.6zM315.1 343.6h2.6v2.4h-2.6zM320.4 343.6h2.6v2.4h-2.6zM325.6 343.6h2.6v2.4h-2.6zM330.8 343.6h2.6v2.4h-2.6zM336.0 343.6h2.6v2.4h-2.6zM341.2 343.6h2.6v2.4h-2.6zM346.4 343.6h2.6v2.4h-2.6zM351.6 343.6h2.6v2.4h-2.6zM356.9 343.6h2.6v2.4h-2.6zM362.1 343.6h2.6v2.4h-2.6zM409.0 343.6h2.6v2.4h-2.6zM414.2 343.6h2.6v2.4h-2.6zM419.4 343.6h2.6v2.4h-2.6zM424.7 343.6h2.6v2.4h-2.6zM429.9 343.6h2.6v2.4h-2.6zM435.1 343.6h2.6v2.4h-2.6zM440.3 343.6h2.6v2.4h-2.6zM445.5 343.6h2.6v2.4h-2.6zM450.7 343.6h2.6v2.4h-2.6zM455.9 343.6h2.6v2.4h-2.6zM461.2 343.6h2.6v2.4h-2.6zM466.4 343.6h2.6v2.4h-2.6zM169.1 348.1h2.6v2.4h-2.6zM174.3 348.1h2.6v2.4h-2.6zM179.6 348.1h2.6v2.4h-2.6zM184.8 348.1h2.6v2.4h-2.6zM190.0 348.1h2.6v2.4h-2.6zM195.2 348.1h2.6v2.4h-2.6zM200.4 348.1h2.6v2.4h-2.6zM205.6 348.1h2.6v2.4h-2.6zM210.8 348.1h2.6v2.4h-2.6zM216.1 348.1h2.6v2.4h-2.6zM221.3 348.1h2.6v2.4h-2.6zM299.5 348.1h2.6v2.4h-2.6zM304.7 348.1h2.6v2.4h-2.6zM309.9 348.1h2.6v2.4h-2.6zM315.1 348.1h2.6v2.4h-2.6zM320.4 348.1h2.6v2.4h-2.6zM325.6 348.1h2.6v2.4h-2.6zM330.8 348.1h2.6v2.4h-2.6zM336.0 348.1h2.6v2.4h-2.6zM341.2 348.1h2.6v2.4h-2.6zM346.4 348.1h2.6v2.4h-2.6zM351.6 348.1h2.6v2.4h-2.6zM356.9 348.1h2.6v2.4h-2.6zM362.1 348.1h2.6v2.4h-2.6zM414.2 348.1h2.6v2.4h-2.6zM419.4 348.1h2.6v2.4h-2.6zM424.7 348.1h2.6v2.4h-2.6zM429.9 348.1h2.6v2.4h-2.6zM435.1 348.1h2.6v2.4h-2.6zM440.3 348.1h2.6v2.4h-2.6zM445.5 348.1h2.6v2.4h-2.6zM450.7 348.1h2.6v2.4h-2.6zM455.9 348.1h2.6v2.4h-2.6zM461.2 348.1h2.6v2.4h-2.6zM466.4 348.1h2.6v2.4h-2.6zM169.1 352.6h2.6v2.4h-2.6zM174.3 352.6h2.6v2.4h-2.6zM179.6 352.6h2.6v2.4h-2.6zM184.8 352.6h2.6v2.4h-2.6zM190.0 352.6h2.6v2.4h-2.6zM195.2 352.6h2.6v2.4h-2.6zM200.4 352.6h2.6v2.4h-2.6zM205.6 352.6h2.6v2.4h-2.6zM210.8 352.6h2.6v2.4h-2.6zM216.1 352.6h2.6v2.4h-2.6zM221.3 352.6h2.6v2.4h-2.6zM226.5 352.6h2.6v2.4h-2.6zM231.7 352.6h2.6v2.4h-2.6zM299.5 352.6h2.6v2.4h-2.6zM304.7 352.6h2.6v2.4h-2.6zM309.9 352.6h2.6v2.4h-2.6zM315.1 352.6h2.6v2.4h-2.6zM320.4 352.6h2.6v2.4h-2.6zM325.6 352.6h2.6v2.4h-2.6zM330.8 352.6h2.6v2.4h-2.6zM336.0 352.6h2.6v2.4h-2.6zM341.2 352.6h2.6v2.4h-2.6zM346.4 352.6h2.6v2.4h-2.6zM351.6 352.6h2.6v2.4h-2.6zM356.9 352.6h2.6v2.4h-2.6zM362.1 352.6h2.6v2.4h-2.6zM414.2 352.6h2.6v2.4h-2.6zM419.4 352.6h2.6v2.4h-2.6zM424.7 352.6h2.6v2.4h-2.6zM429.9 352.6h2.6v2.4h-2.6zM435.1 352.6h2.6v2.4h-2.6zM440.3 352.6h2.6v2.4h-2.6zM445.5 352.6h2.6v2.4h-2.6zM450.7 352.6h2.6v2.4h-2.6zM455.9 352.6h2.6v2.4h-2.6zM461.2 352.6h2.6v2.4h-2.6zM466.4 352.6h2.6v2.4h-2.6zM169.1 357.0h2.6v2.4h-2.6zM174.3 357.0h2.6v2.4h-2.6zM179.6 357.0h2.6v2.4h-2.6zM184.8 357.0h2.6v2.4h-2.6zM190.0 357.0h2.6v2.4h-2.6zM195.2 357.0h2.6v2.4h-2.6zM200.4 357.0h2.6v2.4h-2.6zM205.6 357.0h2.6v2.4h-2.6zM210.8 357.0h2.6v2.4h-2.6zM216.1 357.0h2.6v2.4h-2.6zM221.3 357.0h2.6v2.4h-2.6zM226.5 357.0h2.6v2.4h-2.6zM231.7 357.0h2.6v2.4h-2.6zM299.5 357.0h2.6v2.4h-2.6zM304.7 357.0h2.6v2.4h-2.6zM309.9 357.0h2.6v2.4h-2.6zM315.1 357.0h2.6v2.4h-2.6zM320.4 357.0h2.6v2.4h-2.6zM325.6 357.0h2.6v2.4h-2.6zM330.8 357.0h2.6v2.4h-2.6zM336.0 357.0h2.6v2.4h-2.6zM341.2 357.0h2.6v2.4h-2.6zM346.4 357.0h2.6v2.4h-2.6zM351.6 357.0h2.6v2.4h-2.6zM356.9 357.0h2.6v2.4h-2.6zM362.1 357.0h2.6v2.4h-2.6zM419.4 357.0h2.6v2.4h-2.6zM424.7 357.0h2.6v2.4h-2.6zM429.9 357.0h2.6v2.4h-2.6zM435.1 357.0h2.6v2.4h-2.6zM440.3 357.0h2.6v2.4h-2.6zM445.5 357.0h2.6v2.4h-2.6zM450.7 357.0h2.6v2.4h-2.6zM471.6 357.0h2.6v2.4h-2.6zM476.8 357.0h2.6v2.4h-2.6zM169.1 361.5h2.6v2.4h-2.6zM174.3 361.5h2.6v2.4h-2.6zM179.6 361.5h2.6v2.4h-2.6zM184.8 361.5h2.6v2.4h-2.6zM190.0 361.5h2.6v2.4h-2.6zM195.2 361.5h2.6v2.4h-2.6zM200.4 361.5h2.6v2.4h-2.6zM205.6 361.5h2.6v2.4h-2.6zM210.8 361.5h2.6v2.4h-2.6zM216.1 361.5h2.6v2.4h-2.6zM221.3 361.5h2.6v2.4h-2.6zM226.5 361.5h2.6v2.4h-2.6zM231.7 361.5h2.6v2.4h-2.6zM299.5 361.5h2.6v2.4h-2.6zM304.7 361.5h2.6v2.4h-2.6zM309.9 361.5h2.6v2.4h-2.6zM315.1 361.5h2.6v2.4h-2.6zM320.4 361.5h2.6v2.4h-2.6zM325.6 361.5h2.6v2.4h-2.6zM330.8 361.5h2.6v2.4h-2.6zM336.0 361.5h2.6v2.4h-2.6zM341.2 361.5h2.6v2.4h-2.6zM346.4 361.5h2.6v2.4h-2.6zM351.6 361.5h2.6v2.4h-2.6zM356.9 361.5h2.6v2.4h-2.6zM362.1 361.5h2.6v2.4h-2.6zM424.7 361.5h2.6v2.4h-2.6zM429.9 361.5h2.6v2.4h-2.6zM435.1 361.5h2.6v2.4h-2.6zM450.7 361.5h2.6v2.4h-2.6zM455.9 361.5h2.6v2.4h-2.6zM461.2 361.5h2.6v2.4h-2.6zM466.4 361.5h2.6v2.4h-2.6zM476.8 361.5h2.6v2.4h-2.6zM497.7 361.5h2.6v2.4h-2.6zM502.9 361.5h2.6v2.4h-2.6zM513.3 361.5h2.6v2.4h-2.6zM518.5 361.5h2.6v2.4h-2.6zM523.7 361.5h2.6v2.4h-2.6zM169.1 366.0h2.6v2.4h-2.6zM174.3 366.0h2.6v2.4h-2.6zM179.6 366.0h2.6v2.4h-2.6zM184.8 366.0h2.6v2.4h-2.6zM190.0 366.0h2.6v2.4h-2.6zM195.2 366.0h2.6v2.4h-2.6zM200.4 366.0h2.6v2.4h-2.6zM205.6 366.0h2.6v2.4h-2.6zM210.8 366.0h2.6v2.4h-2.6zM216.1 366.0h2.6v2.4h-2.6zM221.3 366.0h2.6v2.4h-2.6zM226.5 366.0h2.6v2.4h-2.6zM231.7 366.0h2.6v2.4h-2.6zM299.5 366.0h2.6v2.4h-2.6zM304.7 366.0h2.6v2.4h-2.6zM309.9 366.0h2.6v2.4h-2.6zM315.1 366.0h2.6v2.4h-2.6zM320.4 366.0h2.6v2.4h-2.6zM325.6 366.0h2.6v2.4h-2.6zM330.8 366.0h2.6v2.4h-2.6zM336.0 366.0h2.6v2.4h-2.6zM341.2 366.0h2.6v2.4h-2.6zM346.4 366.0h2.6v2.4h-2.6zM351.6 366.0h2.6v2.4h-2.6zM356.9 366.0h2.6v2.4h-2.6zM362.1 366.0h2.6v2.4h-2.6zM445.5 366.0h2.6v2.4h-2.6zM450.7 366.0h2.6v2.4h-2.6zM455.9 366.0h2.6v2.4h-2.6zM461.2 366.0h2.6v2.4h-2.6zM471.6 366.0h2.6v2.4h-2.6zM476.8 366.0h2.6v2.4h-2.6zM497.7 366.0h2.6v2.4h-2.6zM513.3 366.0h2.6v2.4h-2.6zM518.5 366.0h2.6v2.4h-2.6zM174.3 370.4h2.6v2.4h-2.6zM179.6 370.4h2.6v2.4h-2.6zM184.8 370.4h2.6v2.4h-2.6zM190.0 370.4h2.6v2.4h-2.6zM195.2 370.4h2.6v2.4h-2.6zM200.4 370.4h2.6v2.4h-2.6zM205.6 370.4h2.6v2.4h-2.6zM210.8 370.4h2.6v2.4h-2.6zM216.1 370.4h2.6v2.4h-2.6zM221.3 370.4h2.6v2.4h-2.6zM226.5 370.4h2.6v2.4h-2.6zM231.7 370.4h2.6v2.4h-2.6zM299.5 370.4h2.6v2.4h-2.6zM304.7 370.4h2.6v2.4h-2.6zM309.9 370.4h2.6v2.4h-2.6zM315.1 370.4h2.6v2.4h-2.6zM320.4 370.4h2.6v2.4h-2.6zM325.6 370.4h2.6v2.4h-2.6zM330.8 370.4h2.6v2.4h-2.6zM336.0 370.4h2.6v2.4h-2.6zM341.2 370.4h2.6v2.4h-2.6zM346.4 370.4h2.6v2.4h-2.6zM351.6 370.4h2.6v2.4h-2.6zM356.9 370.4h2.6v2.4h-2.6zM362.1 370.4h2.6v2.4h-2.6zM476.8 370.4h2.6v2.4h-2.6zM497.7 370.4h2.6v2.4h-2.6zM508.1 370.4h2.6v2.4h-2.6zM174.3 374.9h2.6v2.4h-2.6zM179.6 374.9h2.6v2.4h-2.6zM184.8 374.9h2.6v2.4h-2.6zM190.0 374.9h2.6v2.4h-2.6zM195.2 374.9h2.6v2.4h-2.6zM200.4 374.9h2.6v2.4h-2.6zM205.6 374.9h2.6v2.4h-2.6zM210.8 374.9h2.6v2.4h-2.6zM216.1 374.9h2.6v2.4h-2.6zM221.3 374.9h2.6v2.4h-2.6zM226.5 374.9h2.6v2.4h-2.6zM299.5 374.9h2.6v2.4h-2.6zM304.7 374.9h2.6v2.4h-2.6zM309.9 374.9h2.6v2.4h-2.6zM315.1 374.9h2.6v2.4h-2.6zM320.4 374.9h2.6v2.4h-2.6zM325.6 374.9h2.6v2.4h-2.6zM330.8 374.9h2.6v2.4h-2.6zM336.0 374.9h2.6v2.4h-2.6zM341.2 374.9h2.6v2.4h-2.6zM346.4 374.9h2.6v2.4h-2.6zM351.6 374.9h2.6v2.4h-2.6zM356.9 374.9h2.6v2.4h-2.6zM362.1 374.9h2.6v2.4h-2.6zM455.9 374.9h2.6v2.4h-2.6zM461.2 374.9h2.6v2.4h-2.6zM466.4 374.9h2.6v2.4h-2.6zM471.6 374.9h2.6v2.4h-2.6zM476.8 374.9h2.6v2.4h-2.6zM482.0 374.9h2.6v2.4h-2.6zM487.2 374.9h2.6v2.4h-2.6zM492.5 374.9h2.6v2.4h-2.6zM497.7 374.9h2.6v2.4h-2.6zM502.9 374.9h2.6v2.4h-2.6zM508.1 374.9h2.6v2.4h-2.6zM513.3 374.9h2.6v2.4h-2.6zM179.6 379.4h2.6v2.4h-2.6zM184.8 379.4h2.6v2.4h-2.6zM190.0 379.4h2.6v2.4h-2.6zM195.2 379.4h2.6v2.4h-2.6zM200.4 379.4h2.6v2.4h-2.6zM205.6 379.4h2.6v2.4h-2.6zM210.8 379.4h2.6v2.4h-2.6zM216.1 379.4h2.6v2.4h-2.6zM221.3 379.4h2.6v2.4h-2.6zM299.5 379.4h2.6v2.4h-2.6zM304.7 379.4h2.6v2.4h-2.6zM309.9 379.4h2.6v2.4h-2.6zM315.1 379.4h2.6v2.4h-2.6zM320.4 379.4h2.6v2.4h-2.6zM325.6 379.4h2.6v2.4h-2.6zM330.8 379.4h2.6v2.4h-2.6zM336.0 379.4h2.6v2.4h-2.6zM341.2 379.4h2.6v2.4h-2.6zM346.4 379.4h2.6v2.4h-2.6zM351.6 379.4h2.6v2.4h-2.6zM356.9 379.4h2.6v2.4h-2.6zM362.1 379.4h2.6v2.4h-2.6zM455.9 379.4h2.6v2.4h-2.6zM461.2 379.4h2.6v2.4h-2.6zM466.4 379.4h2.6v2.4h-2.6zM471.6 379.4h2.6v2.4h-2.6zM476.8 379.4h2.6v2.4h-2.6zM482.0 379.4h2.6v2.4h-2.6zM487.2 379.4h2.6v2.4h-2.6zM492.5 379.4h2.6v2.4h-2.6zM497.7 379.4h2.6v2.4h-2.6zM502.9 379.4h2.6v2.4h-2.6zM508.1 379.4h2.6v2.4h-2.6zM513.3 379.4h2.6v2.4h-2.6zM179.6 383.8h2.6v2.4h-2.6zM184.8 383.8h2.6v2.4h-2.6zM190.0 383.8h2.6v2.4h-2.6zM195.2 383.8h2.6v2.4h-2.6zM200.4 383.8h2.6v2.4h-2.6zM205.6 383.8h2.6v2.4h-2.6zM210.8 383.8h2.6v2.4h-2.6zM216.1 383.8h2.6v2.4h-2.6zM299.5 383.8h2.6v2.4h-2.6zM304.7 383.8h2.6v2.4h-2.6zM309.9 383.8h2.6v2.4h-2.6zM315.1 383.8h2.6v2.4h-2.6zM320.4 383.8h2.6v2.4h-2.6zM325.6 383.8h2.6v2.4h-2.6zM330.8 383.8h2.6v2.4h-2.6zM336.0 383.8h2.6v2.4h-2.6zM341.2 383.8h2.6v2.4h-2.6zM346.4 383.8h2.6v2.4h-2.6zM351.6 383.8h2.6v2.4h-2.6zM356.9 383.8h2.6v2.4h-2.6zM455.9 383.8h2.6v2.4h-2.6zM461.2 383.8h2.6v2.4h-2.6zM466.4 383.8h2.6v2.4h-2.6zM471.6 383.8h2.6v2.4h-2.6zM476.8 383.8h2.6v2.4h-2.6zM482.0 383.8h2.6v2.4h-2.6zM487.2 383.8h2.6v2.4h-2.6zM492.5 383.8h2.6v2.4h-2.6zM497.7 383.8h2.6v2.4h-2.6zM502.9 383.8h2.6v2.4h-2.6zM508.1 383.8h2.6v2.4h-2.6zM513.3 383.8h2.6v2.4h-2.6zM184.8 388.3h2.6v2.4h-2.6zM190.0 388.3h2.6v2.4h-2.6zM195.2 388.3h2.6v2.4h-2.6zM200.4 388.3h2.6v2.4h-2.6zM205.6 388.3h2.6v2.4h-2.6zM210.8 388.3h2.6v2.4h-2.6zM299.5 388.3h2.6v2.4h-2.6zM304.7 388.3h2.6v2.4h-2.6zM309.9 388.3h2.6v2.4h-2.6zM315.1 388.3h2.6v2.4h-2.6zM320.4 388.3h2.6v2.4h-2.6zM325.6 388.3h2.6v2.4h-2.6zM330.8 388.3h2.6v2.4h-2.6zM336.0 388.3h2.6v2.4h-2.6zM341.2 388.3h2.6v2.4h-2.6zM346.4 388.3h2.6v2.4h-2.6zM351.6 388.3h2.6v2.4h-2.6zM455.9 388.3h2.6v2.4h-2.6zM461.2 388.3h2.6v2.4h-2.6zM466.4 388.3h2.6v2.4h-2.6zM471.6 388.3h2.6v2.4h-2.6zM476.8 388.3h2.6v2.4h-2.6zM482.0 388.3h2.6v2.4h-2.6zM487.2 388.3h2.6v2.4h-2.6zM492.5 388.3h2.6v2.4h-2.6zM497.7 388.3h2.6v2.4h-2.6zM502.9 388.3h2.6v2.4h-2.6zM508.1 388.3h2.6v2.4h-2.6zM513.3 388.3h2.6v2.4h-2.6zM184.8 392.8h2.6v2.4h-2.6zM190.0 392.8h2.6v2.4h-2.6zM195.2 392.8h2.6v2.4h-2.6zM200.4 392.8h2.6v2.4h-2.6zM205.6 392.8h2.6v2.4h-2.6zM210.8 392.8h2.6v2.4h-2.6zM299.5 392.8h2.6v2.4h-2.6zM304.7 392.8h2.6v2.4h-2.6zM309.9 392.8h2.6v2.4h-2.6zM315.1 392.8h2.6v2.4h-2.6zM320.4 392.8h2.6v2.4h-2.6zM325.6 392.8h2.6v2.4h-2.6zM330.8 392.8h2.6v2.4h-2.6zM336.0 392.8h2.6v2.4h-2.6zM341.2 392.8h2.6v2.4h-2.6zM346.4 392.8h2.6v2.4h-2.6zM351.6 392.8h2.6v2.4h-2.6zM455.9 392.8h2.6v2.4h-2.6zM461.2 392.8h2.6v2.4h-2.6zM466.4 392.8h2.6v2.4h-2.6zM471.6 392.8h2.6v2.4h-2.6zM476.8 392.8h2.6v2.4h-2.6zM482.0 392.8h2.6v2.4h-2.6zM487.2 392.8h2.6v2.4h-2.6zM492.5 392.8h2.6v2.4h-2.6zM497.7 392.8h2.6v2.4h-2.6zM502.9 392.8h2.6v2.4h-2.6zM508.1 392.8h2.6v2.4h-2.6zM513.3 392.8h2.6v2.4h-2.6zM184.8 397.3h2.6v2.4h-2.6zM190.0 397.3h2.6v2.4h-2.6zM195.2 397.3h2.6v2.4h-2.6zM200.4 397.3h2.6v2.4h-2.6zM205.6 397.3h2.6v2.4h-2.6zM210.8 397.3h2.6v2.4h-2.6zM304.7 397.3h2.6v2.4h-2.6zM309.9 397.3h2.6v2.4h-2.6zM315.1 397.3h2.6v2.4h-2.6zM320.4 397.3h2.6v2.4h-2.6zM325.6 397.3h2.6v2.4h-2.6zM330.8 397.3h2.6v2.4h-2.6zM336.0 397.3h2.6v2.4h-2.6zM341.2 397.3h2.6v2.4h-2.6zM346.4 397.3h2.6v2.4h-2.6zM455.9 397.3h2.6v2.4h-2.6zM461.2 397.3h2.6v2.4h-2.6zM466.4 397.3h2.6v2.4h-2.6zM471.6 397.3h2.6v2.4h-2.6zM476.8 397.3h2.6v2.4h-2.6zM482.0 397.3h2.6v2.4h-2.6zM487.2 397.3h2.6v2.4h-2.6zM492.5 397.3h2.6v2.4h-2.6zM497.7 397.3h2.6v2.4h-2.6zM502.9 397.3h2.6v2.4h-2.6zM508.1 397.3h2.6v2.4h-2.6zM513.3 397.3h2.6v2.4h-2.6zM184.8 401.7h2.6v2.4h-2.6zM190.0 401.7h2.6v2.4h-2.6zM195.2 401.7h2.6v2.4h-2.6zM200.4 401.7h2.6v2.4h-2.6zM205.6 401.7h2.6v2.4h-2.6zM210.8 401.7h2.6v2.4h-2.6zM309.9 401.7h2.6v2.4h-2.6zM315.1 401.7h2.6v2.4h-2.6zM320.4 401.7h2.6v2.4h-2.6zM325.6 401.7h2.6v2.4h-2.6zM330.8 401.7h2.6v2.4h-2.6zM336.0 401.7h2.6v2.4h-2.6zM341.2 401.7h2.6v2.4h-2.6zM455.9 401.7h2.6v2.4h-2.6zM461.2 401.7h2.6v2.4h-2.6zM466.4 401.7h2.6v2.4h-2.6zM471.6 401.7h2.6v2.4h-2.6zM476.8 401.7h2.6v2.4h-2.6zM482.0 401.7h2.6v2.4h-2.6zM487.2 401.7h2.6v2.4h-2.6zM492.5 401.7h2.6v2.4h-2.6zM497.7 401.7h2.6v2.4h-2.6zM502.9 401.7h2.6v2.4h-2.6zM508.1 401.7h2.6v2.4h-2.6zM513.3 401.7h2.6v2.4h-2.6z"/></g>
<g stroke="#444" stroke-width="1" fill="none">
<line x1="199.0" y1="251.4" x2="277.6" y2="190.5"/>
<line x1="324.8" y1="196.3" x2="392.9" y2="251.1"/>
<line x1="198.6" y1="267.5" x2="252.2" y2="310.0"/>
<line x1="335.4" y1="312.5" x2="395.4" y2="270.1"/>
<line x1="199.6" y1="416.7" x2="255.3" y2="374.7"/>
<line x1="332.7" y1="371.6" x2="392.3" y2="418.6"/>
<line x1="166.0" y1="344.5" x2="243.0" y2="344.5"/>
<line x1="343.0" y1="345.5" x2="426.0" y2="345.5"/>
</g>
<circle cx="295.5" cy="343.5" r="57" fill="#000" opacity="0.3" filter="url(#blur4)"/>
<circle cx="293.3" cy="340" r="56.5" fill="url(#ringg)"/>
<circle cx="293.3" cy="340" r="52.6" fill="#efefef"/>
<circle cx="293.3" cy="340" r="51.8" fill="#fcfcfc"/>
<circle cx="293.3" cy="340" r="50.3" fill="#0e5069"/>
<circle cx="293.1" cy="339.8" r="49.3" fill="url(#tealg)"/>
<g class="t" font-weight="bold" fill="#fff" text-anchor="middle">
<text x="292.2" y="329.6" font-size="21" stroke="#fff" stroke-width="0.3" textLength="12.2" lengthAdjust="spacingAndGlyphs">7</text>
<text x="294.75" y="349.8" font-size="20" stroke="#fff" stroke-width="0.35" textLength="57.5" lengthAdjust="spacingAndGlyphs">Steps</text>
</g>
<g class="t" text-anchor="middle" fill="#fff">
<circle cx="301.35" cy="189.5" r="28.8" fill="#451a5e"/><circle cx="301.35" cy="189.5" r="26.2" fill="#6a2d8b"/><circle cx="301.35" cy="189.80" r="24.70" fill="#77339a"/>
<text x="301.50" y="176.9" font-size="9.16" font-weight="bold" stroke="#fff" stroke-width="0.5" textLength="18.00" lengthAdjust="spacingAndGlyphs">Step</text>
<path d="M292.15,186.30 A3.65,3.65 0 0 1 299.45,186.30 V199.60 A3.65,3.65 0 0 1 292.15,199.60 Z M304.04,185.95 L309.22,182.65 V204.60" fill="none" stroke="#fff" stroke-width="2.7" stroke-linecap="butt" stroke-linejoin="round"/>
<circle cx="185.05" cy="258.95" r="20.3" fill="#7e1717"/><circle cx="185.05" cy="258.95" r="18.2" fill="#c73230"/><circle cx="185.05" cy="259.25" r="16.70" fill="#df3b39"/>
<text x="185.47" y="251.6" font-size="8.58" font-weight="bold" stroke="#fff" stroke-width="0.5" textLength="17.55" lengthAdjust="spacingAndGlyphs">Step</text>
<path d="M176.60,259.07 A3.17,3.17 0 0 1 182.95,259.07 V266.43 A3.17,3.17 0 0 1 176.60,266.43 Z M185.95,259.08 A3.18,3.18 0 0 1 192.30,259.08 C192.30,262.06 185.95,265.49 185.95,269.60 H193.30" fill="none" stroke="#fff" stroke-width="2.0" stroke-linecap="butt" stroke-linejoin="round"/>
<circle cx="406.85" cy="259.05" r="20.3" fill="#7c2015"/><circle cx="406.85" cy="259.05" r="18.2" fill="#b83420"/><circle cx="406.85" cy="259.35" r="16.70" fill="#cc3a24"/>
<text x="407.90" y="251.6" font-size="8.58" font-weight="bold" stroke="#fff" stroke-width="0.5" textLength="17.60" lengthAdjust="spacingAndGlyphs">Step</text>
<path d="M399.40,259.10 A3.20,3.20 0 0 1 405.80,259.10 V266.40 A3.20,3.20 0 0 1 399.40,266.40 Z M408.80,258.78 A3.20,2.88 0 0 1 415.20,258.78 V260.42 A3.20,1.92 0 0 1 411.68,262.34 A3.20,2.24 0 0 1 415.20,264.58 V266.40 A3.20,3.20 0 0 1 408.80,266.40" fill="none" stroke="#fff" stroke-width="2.0" stroke-linecap="butt" stroke-linejoin="round"/>
<circle cx="151.85" cy="340.85" r="20.3" fill="#97510b"/><circle cx="151.85" cy="340.85" r="18.2" fill="#d07414"/><circle cx="151.85" cy="341.15" r="16.70" fill="#e37f17"/>
<text x="152.25" y="333.2" font-size="7.99" font-weight="bold" stroke="#fff" stroke-width="0.5" textLength="17.10" lengthAdjust="spacingAndGlyphs">Step</text>
<path d="M144.00,341.20 A3.20,3.20 0 0 1 150.40,341.20 V348.40 A3.20,3.20 0 0 1 144.00,348.40 Z M158.01,352.60 V338.00 L153.40,347.79 H160.80" fill="none" stroke="#fff" stroke-width="2.0" stroke-linecap="butt" stroke-linejoin="round"/>
<circle cx="440.85" cy="340.65" r="20.4" fill="#1b6d74"/><circle cx="440.85" cy="340.65" r="18.299999999999997" fill="#2999a3"/><circle cx="440.85" cy="340.95" r="16.80" fill="#2ea8b3"/>
<text x="441.50" y="334.9" font-size="8.14" font-weight="bold" stroke="#fff" stroke-width="0.5" textLength="17.60" lengthAdjust="spacingAndGlyphs">Step</text>
<path d="M434.20,341.88 A2.67,2.67 0 0 1 439.55,341.88 V348.52 A2.67,2.67 0 0 1 434.20,348.52 Z M447.90,339.20 H442.82 L442.55,344.60 C443.62,343.76 447.90,343.52 447.90,346.16 V348.52 A2.68,2.68 0 0 1 442.55,348.52" fill="none" stroke="#fff" stroke-width="2.0" stroke-linecap="butt" stroke-linejoin="round"/>
<circle cx="185.25" cy="423.25" r="20.3" fill="#541040"/><circle cx="185.25" cy="423.25" r="18.2" fill="#8c1d64"/><circle cx="185.25" cy="423.55" r="16.70" fill="#9e2170"/>
<text x="186.95" y="416.9" font-size="8.72" font-weight="bold" stroke="#fff" stroke-width="0.5" textLength="17.90" lengthAdjust="spacingAndGlyphs">Step</text>
<path d="M178.60,423.50 A3.10,3.10 0 0 1 184.80,423.50 V430.50 A3.10,3.10 0 0 1 178.60,430.50 Z M194.00,422.88 A3.10,3.10 0 0 0 187.80,423.50 V430.50 A3.10,3.10 0 0 0 194.00,430.50 V428.06 A3.10,3.10 0 0 0 187.80,428.06" fill="none" stroke="#fff" stroke-width="2.0" stroke-linecap="butt" stroke-linejoin="round"/>
<circle cx="406.85" cy="423.25" r="20.3" fill="#263436"/><circle cx="406.85" cy="423.25" r="18.2" fill="#415455"/><circle cx="406.85" cy="423.55" r="16.70" fill="#4a5e5f"/>
<text x="408.75" y="416.9" font-size="8.72" font-weight="bold" stroke="#fff" stroke-width="0.5" textLength="17.50" lengthAdjust="spacingAndGlyphs">Step</text>
<path d="M402.30,422.85 A2.45,2.45 0 0 1 407.20,422.85 V431.15 A2.45,2.45 0 0 1 402.30,431.15 Z M409.20,420.40 H415.10 L411.43,434.60" fill="none" stroke="#fff" stroke-width="2.0" stroke-linecap="butt" stroke-linejoin="round"/>
</g>
<g class="t" fill="#1b1b1b" stroke="#1b1b1b" stroke-width="0.15" font-size="17" text-anchor="middle">
<text x="304.2" y="117.7" textLength="77.2" lengthAdjust="spacingAndGlyphs">Find Your</text>
<text x="306.9" y="136.5" textLength="118.2" lengthAdjust="spacingAndGlyphs">‘driving’ factor</text>
<text x="85" y="253.8" textLength="57.6" lengthAdjust="spacingAndGlyphs">Do Self</text>
<text x="84.4" y="272.7" textLength="99.7" lengthAdjust="spacingAndGlyphs">-evaluation</text>
<text x="504.5" y="254.5" textLength="102.9" lengthAdjust="spacingAndGlyphs">Make a Goal</text>
<text x="504.5" y="274.4" textLength="102.9" lengthAdjust="spacingAndGlyphs">that Matters</text>
<text x="66.8" y="335.7" textLength="114.7" lengthAdjust="spacingAndGlyphs">Let’s Mix those</text>
<text x="68.5" y="354.3" textLength="83.2" lengthAdjust="spacingAndGlyphs">Strategies</text>
<text x="519.8" y="332.9" textLength="92.7" lengthAdjust="spacingAndGlyphs">Explore the</text>
<text x="521.2" y="355.5" textLength="87.3" lengthAdjust="spacingAndGlyphs">Resources</text>
<text x="97.4" y="419" textLength="99.5" lengthAdjust="spacingAndGlyphs">You need to</text>
<text x="99.4" y="440.5" textLength="90.6" lengthAdjust="spacingAndGlyphs">Time it Out</text>
<text x="509.6" y="417.7" textLength="133.6" lengthAdjust="spacingAndGlyphs">Take a breather</text>
<text x="511.6" y="439" textLength="116.4" lengthAdjust="spacingAndGlyphs">now and then</text>
</g>
<g fill="none" stroke="#d4d4d4" stroke-width="1.1" stroke-dasharray="1.2 3.8">
<path d="M160.7 423.7 A25 25 0 0 0 171 444"/>
<path d="M432 424.5 A25 25 0 0 1 405 448.3"/>
</g>
<g id="logo" class="t">
<path d="M258.2 478.3 L264.2 471.1 L273.1 472.2 L269.2 476.8 L264.5 478.2 L261.2 479.6 Z" fill="#c3302f"/>
<path d="M262.2 476.2 L270.2 473.6" stroke="#f0b4b4" stroke-width="0.9" fill="none"/>
<path d="M259.7 478.6 L261.7 483.4" stroke="#c3302f" stroke-width="1" fill="none"/>
<text x="277" y="476.4" font-size="8.6" font-weight="bold" textLength="39.3" lengthAdjust="spacingAndGlyphs"><tspan fill="#262626">Jan</tspan><tspan fill="#c0302e">Bask</tspan></text>
<text x="268.2" y="487.4" font-size="11.6" fill="#262626" stroke="#262626" stroke-width="0.3" textLength="59.2" lengthAdjust="spacingAndGlyphs">TRAINING</text>
<text x="276.3" y="491.3" font-size="3.8" font-weight="bold" fill="#333" textLength="37.4" lengthAdjust="spacingAndGlyphs">Learn and Grow</text>
<rect x="265.7" y="489.3" width="9.3" height="0.9" fill="#e3a6a6"/>
<rect x="315.7" y="489.3" width="11.3" height="0.9" fill="#e3a6a6"/>
</g>
<g stroke="#333" stroke-width="1.3">
<line x1="30.8" y1="484.5" x2="253" y2="484.5"/>
<line x1="340" y1="484.5" x2="576.7" y2="484.5"/>
</g>
</svg>
</body></html>
